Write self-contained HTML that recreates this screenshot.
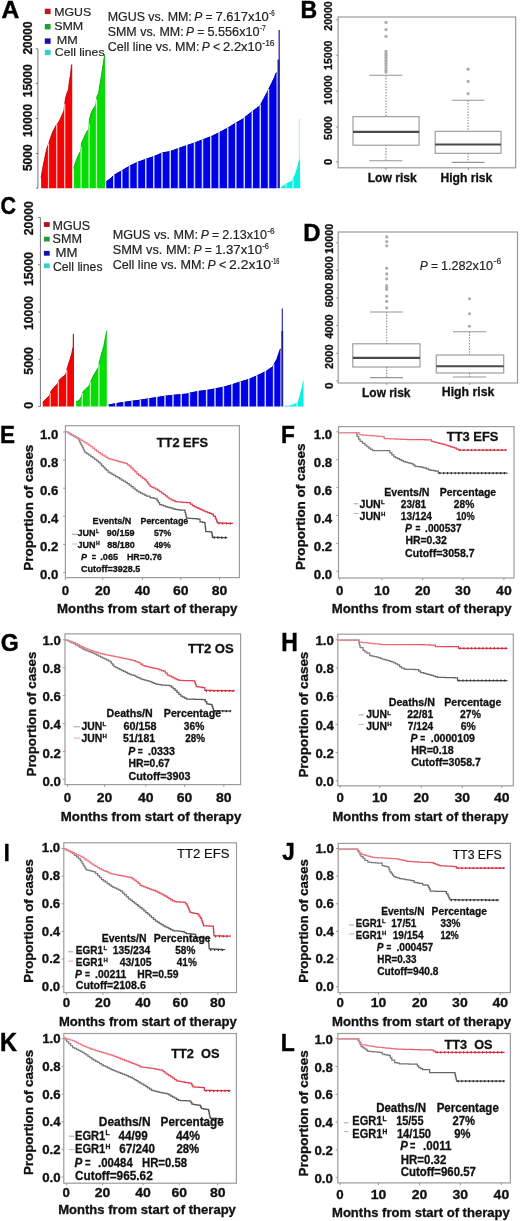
<!DOCTYPE html><html><head><meta charset="utf-8"><style>html,body{margin:0;padding:0;background:#fff;}svg{display:block;will-change:transform;filter:blur(0.35px);} text{font-family:"Liberation Sans",sans-serif;}</style></head><body>
<svg width="520" height="1221" viewBox="0 0 520 1221">
<rect x="0" y="0" width="520" height="1221" fill="#fff"/>
<path d="M41.10,188.20 L41.10,188.00 L41.10,177.50 L42.50,168.90 L44.50,159.10 L46.50,149.30 L47.80,145.40 L49.20,142.10 L51.00,136.20 L53.00,131.00 L56.00,125.20 L57.40,123.80 L59.50,120.50 L61.50,115.90 L63.90,110.50 L65.40,98.50 L66.90,93.10 L68.50,89.20 L69.60,79.20 L70.40,75.40 L71.20,67.70 L71.50,64.60 L72.20,64.40 L72.20,188.20 Z" fill="#f40404"/>
<path d="M41.10,177.85 L42.50,169.25 L44.50,159.45 L46.50,149.65 L47.80,145.75 L49.20,142.45 L51.00,136.55 L53.00,131.35 L56.00,125.55 L57.40,124.15 L59.50,120.85 L61.50,116.25 L63.90,110.85 L65.40,98.85 L66.90,93.45 L68.50,89.55 L69.60,79.55 L70.40,75.75 L71.20,68.05 L71.50,64.95 L72.20,64.75" fill="none" stroke="#b80808" stroke-width="0.9" stroke-linejoin="round"/>
<line x1="48.50" y1="143.45" x2="48.50" y2="188.70" stroke="#ffc8c0" stroke-width="1.2"/>
<line x1="56.70" y1="124.20" x2="56.70" y2="188.70" stroke="#ffc8c0" stroke-width="1.2"/>
<line x1="64.70" y1="103.80" x2="64.70" y2="188.70" stroke="#ffc8c0" stroke-width="1.2"/>
<path d="M73.80,188.20 L73.80,188.00 L73.80,168.00 L75.00,163.50 L77.00,158.00 L79.60,152.20 L80.60,151.50 L81.60,142.50 L83.00,139.50 L85.00,135.00 L87.00,131.00 L88.60,129.40 L89.60,118.50 L91.00,113.00 L93.00,109.00 L95.80,104.80 L97.00,96.00 L98.50,93.30 L101.30,76.00 L103.50,61.50 L104.70,54.30 L105.00,54.00 L105.00,188.20 Z" fill="#06dc06"/>
<path d="M73.80,168.35 L75.00,163.85 L77.00,158.35 L79.60,152.55 L80.60,151.85 L81.60,142.85 L83.00,139.85 L85.00,135.35 L87.00,131.35 L88.60,129.75 L89.60,118.85 L91.00,113.35 L93.00,109.35 L95.80,105.15 L97.00,96.35 L98.50,93.65 L101.30,76.35 L103.50,61.85 L104.70,54.65 L105.00,54.35" fill="none" stroke="#10a818" stroke-width="0.9" stroke-linejoin="round"/>
<line x1="81.10" y1="146.70" x2="81.10" y2="188.70" stroke="#b8ffb0" stroke-width="1.3"/>
<line x1="89.10" y1="123.65" x2="89.10" y2="188.70" stroke="#b8ffb0" stroke-width="1.3"/>
<line x1="96.50" y1="99.37" x2="96.50" y2="188.70" stroke="#b8ffb0" stroke-width="1.3"/>
<path d="M106.30,188.20 L106.30,188.00 L106.30,181.25 L110.00,178.75 L113.75,175.00 L122.50,170.00 L130.00,165.50 L137.50,162.00 L146.25,158.75 L153.75,156.25 L162.50,152.50 L170.00,151.25 L178.75,148.00 L187.50,145.00 L195.00,142.50 L202.50,139.50 L211.25,136.25 L218.75,132.50 L227.70,127.70 L235.40,123.00 L243.10,118.50 L250.80,112.30 L260.00,105.40 L266.20,93.80 L270.80,84.60 L274.50,77.00 L275.80,73.00 L276.60,72.50 L276.60,188.20 Z" fill="#0000e4"/>
<path d="M106.30,181.60 L110.00,179.10 L113.75,175.35 L122.50,170.35 L130.00,165.85 L137.50,162.35 L146.25,159.10 L153.75,156.60 L162.50,152.85 L170.00,151.60 L178.75,148.35 L187.50,145.35 L195.00,142.85 L202.50,139.85 L211.25,136.60 L218.75,132.85 L227.70,128.05 L235.40,123.35 L243.10,118.85 L250.80,112.65 L260.00,105.75 L266.20,94.15 L270.80,84.95 L274.50,77.35 L275.80,73.35 L276.60,72.85" fill="none" stroke="#0000a0" stroke-width="0.9" stroke-linejoin="round"/>
<line x1="113.75" y1="174.70" x2="113.75" y2="188.70" stroke="#ccd4ff" stroke-width="1.5"/>
<line x1="121.75" y1="170.13" x2="121.75" y2="188.70" stroke="#ccd4ff" stroke-width="1.5"/>
<line x1="129.50" y1="165.50" x2="129.50" y2="188.70" stroke="#ccd4ff" stroke-width="1.5"/>
<line x1="137.50" y1="161.70" x2="137.50" y2="188.70" stroke="#ccd4ff" stroke-width="1.5"/>
<line x1="145.75" y1="158.64" x2="145.75" y2="188.70" stroke="#ccd4ff" stroke-width="1.5"/>
<line x1="153.75" y1="155.95" x2="153.75" y2="188.70" stroke="#ccd4ff" stroke-width="1.5"/>
<line x1="162.00" y1="152.41" x2="162.00" y2="188.70" stroke="#ccd4ff" stroke-width="1.5"/>
<line x1="170.25" y1="150.86" x2="170.25" y2="188.70" stroke="#ccd4ff" stroke-width="1.5"/>
<line x1="178.50" y1="147.79" x2="178.50" y2="188.70" stroke="#ccd4ff" stroke-width="1.5"/>
<line x1="186.75" y1="144.96" x2="186.75" y2="188.70" stroke="#ccd4ff" stroke-width="1.5"/>
<line x1="194.50" y1="142.37" x2="194.50" y2="188.70" stroke="#ccd4ff" stroke-width="1.5"/>
<line x1="202.50" y1="139.20" x2="202.50" y2="188.70" stroke="#ccd4ff" stroke-width="1.5"/>
<line x1="210.75" y1="136.14" x2="210.75" y2="188.70" stroke="#ccd4ff" stroke-width="1.5"/>
<line x1="219.00" y1="132.07" x2="219.00" y2="188.70" stroke="#ccd4ff" stroke-width="1.5"/>
<line x1="227.70" y1="127.40" x2="227.70" y2="188.70" stroke="#ccd4ff" stroke-width="1.5"/>
<line x1="235.80" y1="122.47" x2="235.80" y2="188.70" stroke="#ccd4ff" stroke-width="1.5"/>
<line x1="244.30" y1="117.23" x2="244.30" y2="188.70" stroke="#ccd4ff" stroke-width="1.5"/>
<line x1="252.30" y1="110.88" x2="252.30" y2="188.70" stroke="#ccd4ff" stroke-width="1.5"/>
<line x1="260.30" y1="104.54" x2="260.30" y2="188.70" stroke="#ccd4ff" stroke-width="1.5"/>
<line x1="268.50" y1="88.90" x2="268.50" y2="188.70" stroke="#ccd4ff" stroke-width="1.5"/>
<rect x="277.50" y="59.50" width="2.40" height="128.70" fill="#22229a" stroke="none" stroke-width="1"/>
<rect x="278.50" y="30.00" width="1.40" height="30.00" fill="#3a3ab4" stroke="none" stroke-width="1"/>
<path d="M280.80,188.20 L280.80,188.00 L280.80,187.20 L286.00,183.60 L291.50,181.00 L295.00,174.00 L297.60,166.00 L299.00,159.40 L300.00,156.00 L300.20,188.00 L300.20,188.20 Z" fill="#08f0e4"/>
<line x1="286.00" y1="183.30" x2="286.00" y2="188.70" stroke="#d0fff8" stroke-width="1.0"/>
<line x1="293.00" y1="177.70" x2="293.00" y2="188.70" stroke="#d0fff8" stroke-width="1.0"/>
<line x1="299.30" y1="119.00" x2="299.30" y2="160.00" stroke="#9ff0f0" stroke-width="1"/>
<line x1="37.90" y1="48.80" x2="37.90" y2="188.10" stroke="#777" stroke-width="1"/>
<line x1="35.80" y1="48.80" x2="37.90" y2="48.80" stroke="#777" stroke-width="1"/>
<line x1="35.80" y1="83.40" x2="37.90" y2="83.40" stroke="#777" stroke-width="1"/>
<line x1="35.80" y1="118.50" x2="37.90" y2="118.50" stroke="#777" stroke-width="1"/>
<line x1="35.80" y1="153.50" x2="37.90" y2="153.50" stroke="#777" stroke-width="1"/>
<line x1="35.80" y1="188.10" x2="37.90" y2="188.10" stroke="#777" stroke-width="1"/>
<text transform="translate(32.30,38.00) rotate(-90)" x="0" y="0" font-size="11.9" font-weight="bold" stroke="#111" stroke-width="0.3" text-anchor="middle" textLength="33.00" lengthAdjust="spacingAndGlyphs" fill="#111">20000</text>
<text transform="translate(32.30,80.70) rotate(-90)" x="0" y="0" font-size="11.9" font-weight="bold" stroke="#111" stroke-width="0.3" text-anchor="middle" textLength="33.00" lengthAdjust="spacingAndGlyphs" fill="#111">15000</text>
<text transform="translate(32.30,120.50) rotate(-90)" x="0" y="0" font-size="11.9" font-weight="bold" stroke="#111" stroke-width="0.3" text-anchor="middle" textLength="33.00" lengthAdjust="spacingAndGlyphs" fill="#111">10000</text>
<text transform="translate(32.30,157.70) rotate(-90)" x="0" y="0" font-size="11.9" font-weight="bold" stroke="#111" stroke-width="0.3" text-anchor="middle" textLength="26.80" lengthAdjust="spacingAndGlyphs" fill="#111">5000</text>
<text transform="translate(1.49,18.20) scale(1.032,1)" x="0" y="0" font-size="23.84" font-weight="bold" fill="#000" stroke="#000" stroke-width="0.45">A</text>
<rect x="44.80" y="8.70" width="5.80" height="5.40" fill="#cc1020" stroke="none" stroke-width="1"/>
<rect x="44.80" y="24.00" width="5.80" height="5.40" fill="#20a030" stroke="none" stroke-width="1"/>
<rect x="44.80" y="38.40" width="5.80" height="5.40" fill="#1010b0" stroke="none" stroke-width="1"/>
<rect x="44.80" y="49.80" width="5.80" height="5.40" fill="#30d0d0" stroke="none" stroke-width="1"/>
<text x="54.20" y="15.90" font-size="11" stroke="#222" stroke-width="0.18" textLength="37.00" lengthAdjust="spacingAndGlyphs" fill="#222">MGUS</text>
<text x="54.20" y="29.90" font-size="11" stroke="#222" stroke-width="0.18" textLength="29.00" lengthAdjust="spacingAndGlyphs" fill="#222">SMM</text>
<text x="56.80" y="43.70" font-size="11" stroke="#222" stroke-width="0.18" textLength="21.00" lengthAdjust="spacingAndGlyphs" fill="#222">MM</text>
<text x="54.80" y="56.30" font-size="11" stroke="#222" stroke-width="0.18" textLength="49.80" lengthAdjust="spacingAndGlyphs" fill="#222">Cell lines</text>
<text x="107.70" y="20.60" font-size="12" stroke="#222" stroke-width="0.18" textLength="84.10" lengthAdjust="spacingAndGlyphs" fill="#222">MGUS vs. MM:</text>
<text x="194.20" y="20.60" font-size="12" stroke="#222" stroke-width="0.18" font-style="italic" fill="#222">P</text>
<text x="205.40" y="20.60" font-size="12" stroke="#222" stroke-width="0.18" fill="#222">=</text>
<text x="215.50" y="20.60" font-size="12" stroke="#222" stroke-width="0.18" textLength="53.30" lengthAdjust="spacingAndGlyphs" fill="#222">7.617x10</text>
<text x="269.10" y="15.60" font-size="8.2" stroke="#222" stroke-width="0.18" textLength="5.50" lengthAdjust="spacingAndGlyphs" fill="#222">-6</text>
<text x="107.70" y="36.30" font-size="12" stroke="#222" stroke-width="0.18" textLength="76.00" lengthAdjust="spacingAndGlyphs" fill="#222">SMM vs. MM:</text>
<text x="186.10" y="36.30" font-size="12" stroke="#222" stroke-width="0.18" font-style="italic" fill="#222">P</text>
<text x="197.30" y="36.30" font-size="12" stroke="#222" stroke-width="0.18" fill="#222">=</text>
<text x="207.40" y="36.30" font-size="12" stroke="#222" stroke-width="0.18" textLength="52.20" lengthAdjust="spacingAndGlyphs" fill="#222">5.556x10</text>
<text x="259.90" y="31.30" font-size="8.2" stroke="#222" stroke-width="0.18" textLength="5.90" lengthAdjust="spacingAndGlyphs" fill="#222">-7</text>
<text x="107.70" y="51.20" font-size="12" stroke="#222" stroke-width="0.18" textLength="91.70" lengthAdjust="spacingAndGlyphs" fill="#222">Cell line vs. MM:</text>
<text x="201.80" y="51.20" font-size="12" stroke="#222" stroke-width="0.18" font-style="italic" fill="#222">P</text>
<text x="213.00" y="51.20" font-size="12" stroke="#222" stroke-width="0.18" fill="#222">&lt;</text>
<text x="223.10" y="51.20" font-size="12" stroke="#222" stroke-width="0.18" textLength="38.90" lengthAdjust="spacingAndGlyphs" fill="#222">2.2x10</text>
<text x="262.30" y="46.20" font-size="8.2" stroke="#222" stroke-width="0.18" textLength="12.30" lengthAdjust="spacingAndGlyphs" fill="#222">-16</text>
<rect x="338.10" y="17.00" width="177.60" height="150.80" fill="none" stroke="#9a9a9a" stroke-width="1.2"/>
<line x1="336.00" y1="19.80" x2="338.10" y2="19.80" stroke="#999" stroke-width="1"/>
<line x1="336.00" y1="55.20" x2="338.10" y2="55.20" stroke="#999" stroke-width="1"/>
<line x1="336.00" y1="91.00" x2="338.10" y2="91.00" stroke="#999" stroke-width="1"/>
<line x1="336.00" y1="127.10" x2="338.10" y2="127.10" stroke="#999" stroke-width="1"/>
<line x1="336.00" y1="161.90" x2="338.10" y2="161.90" stroke="#999" stroke-width="1"/>
<text transform="translate(331.80,16.00) rotate(-90)" x="0" y="0" font-size="10.6" font-weight="bold" stroke="#111" stroke-width="0.3" text-anchor="middle" textLength="29.40" lengthAdjust="spacingAndGlyphs" fill="#111">20000</text>
<text transform="translate(331.80,55.20) rotate(-90)" x="0" y="0" font-size="10.6" font-weight="bold" stroke="#111" stroke-width="0.3" text-anchor="middle" textLength="29.40" lengthAdjust="spacingAndGlyphs" fill="#111">15000</text>
<text transform="translate(331.80,90.00) rotate(-90)" x="0" y="0" font-size="10.6" font-weight="bold" stroke="#111" stroke-width="0.3" text-anchor="middle" textLength="29.40" lengthAdjust="spacingAndGlyphs" fill="#111">10000</text>
<text transform="translate(331.80,128.20) rotate(-90)" x="0" y="0" font-size="10.6" font-weight="bold" stroke="#111" stroke-width="0.3" text-anchor="middle" textLength="23.70" lengthAdjust="spacingAndGlyphs" fill="#111">5000</text>
<text transform="translate(331.80,162.00) rotate(-90)" x="0" y="0" font-size="10.6" font-weight="bold" stroke="#111" stroke-width="0.3" text-anchor="middle" textLength="6.20" lengthAdjust="spacingAndGlyphs" fill="#111">0</text>
<text transform="translate(300.55,18.40) scale(0.955,1)" x="0" y="0" font-size="24.20" font-weight="bold" fill="#000" stroke="#000" stroke-width="0.45">B</text>
<line x1="386.00" y1="75.30" x2="386.00" y2="116.70" stroke="#888" stroke-width="1.1" stroke-dasharray="1.4,1.4"/>
<line x1="386.00" y1="145.20" x2="386.00" y2="160.80" stroke="#888" stroke-width="1.1" stroke-dasharray="1.4,1.4"/>
<line x1="369.30" y1="75.30" x2="402.30" y2="75.30" stroke="#969696" stroke-width="1.1"/>
<line x1="369.30" y1="160.80" x2="402.30" y2="160.80" stroke="#969696" stroke-width="1.1"/>
<rect x="353.00" y="116.70" width="66.10" height="28.50" fill="#fff" stroke="#969696" stroke-width="1.1"/>
<line x1="353.00" y1="131.80" x2="419.10" y2="131.80" stroke="#4a4a4a" stroke-width="2.2"/>
<circle cx="386.00" cy="22.40" r="1.6" fill="#acacac"/>
<circle cx="386.00" cy="29.60" r="1.6" fill="#acacac"/>
<circle cx="386.00" cy="36.30" r="1.6" fill="#acacac"/>
<circle cx="386.00" cy="51.30" r="1.6" fill="#acacac"/>
<circle cx="386.00" cy="53.60" r="1.6" fill="#acacac"/>
<circle cx="386.00" cy="55.40" r="1.6" fill="#acacac"/>
<circle cx="386.00" cy="57.30" r="1.6" fill="#acacac"/>
<circle cx="386.00" cy="59.10" r="1.6" fill="#acacac"/>
<circle cx="386.00" cy="61.20" r="1.6" fill="#acacac"/>
<circle cx="386.00" cy="63.50" r="1.6" fill="#acacac"/>
<circle cx="386.00" cy="65.50" r="1.6" fill="#acacac"/>
<circle cx="386.00" cy="68.10" r="1.6" fill="#acacac"/>
<circle cx="386.00" cy="70.40" r="1.6" fill="#acacac"/>
<circle cx="386.00" cy="72.10" r="1.6" fill="#acacac"/>
<line x1="468.10" y1="100.30" x2="468.10" y2="131.30" stroke="#888" stroke-width="1.1" stroke-dasharray="1.4,1.4"/>
<line x1="468.10" y1="153.30" x2="468.10" y2="162.40" stroke="#888" stroke-width="1.1" stroke-dasharray="1.4,1.4"/>
<line x1="451.70" y1="100.30" x2="484.50" y2="100.30" stroke="#969696" stroke-width="1.1"/>
<line x1="451.70" y1="162.40" x2="484.50" y2="162.40" stroke="#969696" stroke-width="1.1"/>
<rect x="435.20" y="131.30" width="65.80" height="22.00" fill="#fff" stroke="#969696" stroke-width="1.1"/>
<line x1="435.20" y1="144.50" x2="501.00" y2="144.50" stroke="#4a4a4a" stroke-width="2.2"/>
<circle cx="468.10" cy="69.20" r="1.6" fill="#acacac"/>
<circle cx="468.10" cy="81.30" r="1.6" fill="#acacac"/>
<circle cx="468.10" cy="93.70" r="1.6" fill="#acacac"/>
<line x1="386.00" y1="167.80" x2="386.00" y2="170.00" stroke="#999" stroke-width="1"/>
<line x1="468.50" y1="167.80" x2="468.50" y2="170.00" stroke="#999" stroke-width="1"/>
<text x="367.70" y="181.50" font-size="12.2" font-weight="bold" stroke="#111" stroke-width="0.3" textLength="49.10" lengthAdjust="spacingAndGlyphs" fill="#111">Low risk</text>
<text x="440.40" y="181.50" font-size="12.2" font-weight="bold" stroke="#111" stroke-width="0.3" textLength="51.90" lengthAdjust="spacingAndGlyphs" fill="#111">High risk</text>
<path d="M42.80,406.50 L42.80,406.50 L42.80,401.90 L44.90,399.80 L48.40,396.30 L49.40,395.40 L51.00,391.00 L53.20,388.00 L56.00,385.20 L57.60,383.60 L59.20,380.00 L61.50,377.60 L65.00,374.90 L65.90,373.50 L67.50,367.00 L69.90,359.60 L71.90,352.70 L72.90,347.20 L73.20,347.00 L73.30,334.00 L74.00,334.00 L74.00,406.50 Z" fill="#f40404"/>
<path d="M42.80,402.25 L44.90,400.15 L48.40,396.65 L49.40,395.75 L51.00,391.35 L53.20,388.35 L56.00,385.55 L57.60,383.95 L59.20,380.35 L61.50,377.95 L65.00,375.25 L65.90,373.85 L67.50,367.35 L69.90,359.95 L71.90,353.05 L72.90,347.55 L73.20,347.35 L73.30,334.35 L74.00,334.35" fill="none" stroke="#b80808" stroke-width="0.9" stroke-linejoin="round"/>
<line x1="50.20" y1="392.90" x2="50.20" y2="407.00" stroke="#ffc8c0" stroke-width="1.2"/>
<line x1="58.40" y1="381.50" x2="58.40" y2="407.00" stroke="#ffc8c0" stroke-width="1.2"/>
<line x1="66.70" y1="369.95" x2="66.70" y2="407.00" stroke="#ffc8c0" stroke-width="1.2"/>
<path d="M76.10,406.50 L76.10,406.50 L76.10,401.20 L78.90,400.50 L81.30,396.50 L82.90,391.50 L86.50,388.00 L89.40,385.00 L90.90,381.00 L93.40,375.60 L96.20,370.70 L98.20,367.50 L99.60,361.00 L101.70,352.70 L103.80,345.80 L105.90,334.70 L106.80,330.50 L106.80,406.50 Z" fill="#06dc06"/>
<path d="M76.10,401.55 L78.90,400.85 L81.30,396.85 L82.90,391.85 L86.50,388.35 L89.40,385.35 L90.90,381.35 L93.40,375.95 L96.20,371.05 L98.20,367.85 L99.60,361.35 L101.70,353.05 L103.80,346.15 L105.90,335.05 L106.80,330.85" fill="none" stroke="#10a818" stroke-width="0.9" stroke-linejoin="round"/>
<line x1="82.30" y1="393.08" x2="82.30" y2="407.00" stroke="#b8ffb0" stroke-width="1.3"/>
<line x1="90.40" y1="382.03" x2="90.40" y2="407.00" stroke="#b8ffb0" stroke-width="1.3"/>
<line x1="98.90" y1="363.95" x2="98.90" y2="407.00" stroke="#b8ffb0" stroke-width="1.3"/>
<path d="M108.70,406.50 L108.70,406.50 L108.70,404.60 L119.20,402.70 L128.80,401.30 L138.50,400.00 L148.00,398.50 L157.70,397.00 L167.30,395.60 L176.90,394.60 L186.50,393.70 L190.00,392.70 L198.50,391.00 L207.00,390.00 L215.40,388.40 L223.80,386.70 L232.30,384.20 L240.80,381.40 L249.20,378.90 L257.70,375.10 L266.20,370.90 L272.50,366.60 L276.70,359.20 L279.90,349.70 L280.50,348.50 L280.50,406.50 Z" fill="#0000e4"/>
<path d="M108.70,404.95 L119.20,403.05 L128.80,401.65 L138.50,400.35 L148.00,398.85 L157.70,397.35 L167.30,395.95 L176.90,394.95 L186.50,394.05 L190.00,393.05 L198.50,391.35 L207.00,390.35 L215.40,388.75 L223.80,387.05 L232.30,384.55 L240.80,381.75 L249.20,379.25 L257.70,375.45 L266.20,371.25 L272.50,366.95 L276.70,359.55 L279.90,350.05 L280.50,348.85" fill="none" stroke="#0000a0" stroke-width="0.9" stroke-linejoin="round"/>
<line x1="115.80" y1="403.02" x2="115.80" y2="407.00" stroke="#ccd4ff" stroke-width="1.5"/>
<line x1="124.00" y1="401.70" x2="124.00" y2="407.00" stroke="#ccd4ff" stroke-width="1.5"/>
<line x1="132.10" y1="400.56" x2="132.10" y2="407.00" stroke="#ccd4ff" stroke-width="1.5"/>
<line x1="140.40" y1="399.40" x2="140.40" y2="407.00" stroke="#ccd4ff" stroke-width="1.5"/>
<line x1="148.50" y1="398.12" x2="148.50" y2="407.00" stroke="#ccd4ff" stroke-width="1.5"/>
<line x1="156.70" y1="396.85" x2="156.70" y2="407.00" stroke="#ccd4ff" stroke-width="1.5"/>
<line x1="165.00" y1="395.64" x2="165.00" y2="407.00" stroke="#ccd4ff" stroke-width="1.5"/>
<line x1="173.00" y1="394.71" x2="173.00" y2="407.00" stroke="#ccd4ff" stroke-width="1.5"/>
<line x1="181.20" y1="393.90" x2="181.20" y2="407.00" stroke="#ccd4ff" stroke-width="1.5"/>
<line x1="189.40" y1="392.57" x2="189.40" y2="407.00" stroke="#ccd4ff" stroke-width="1.5"/>
<line x1="197.90" y1="390.82" x2="197.90" y2="407.00" stroke="#ccd4ff" stroke-width="1.5"/>
<line x1="206.60" y1="389.75" x2="206.60" y2="407.00" stroke="#ccd4ff" stroke-width="1.5"/>
<line x1="215.00" y1="388.18" x2="215.00" y2="407.00" stroke="#ccd4ff" stroke-width="1.5"/>
<line x1="223.40" y1="386.48" x2="223.40" y2="407.00" stroke="#ccd4ff" stroke-width="1.5"/>
<line x1="231.90" y1="384.02" x2="231.90" y2="407.00" stroke="#ccd4ff" stroke-width="1.5"/>
<line x1="240.30" y1="381.26" x2="240.30" y2="407.00" stroke="#ccd4ff" stroke-width="1.5"/>
<line x1="248.80" y1="378.72" x2="248.80" y2="407.00" stroke="#ccd4ff" stroke-width="1.5"/>
<line x1="256.80" y1="375.20" x2="256.80" y2="407.00" stroke="#ccd4ff" stroke-width="1.5"/>
<line x1="265.30" y1="371.04" x2="265.30" y2="407.00" stroke="#ccd4ff" stroke-width="1.5"/>
<line x1="273.60" y1="364.36" x2="273.60" y2="407.00" stroke="#ccd4ff" stroke-width="1.5"/>
<rect x="281.30" y="331.00" width="1.90" height="75.50" fill="#1a1a96" stroke="none" stroke-width="1"/>
<rect x="281.70" y="308.50" width="1.30" height="23.00" fill="#3a3ab4" stroke="none" stroke-width="1"/>
<path d="M284.00,406.50 L284.00,406.50 L284.00,405.80 L290.00,405.50 L293.00,404.60 L297.70,402.30 L299.00,397.70 L301.50,388.50 L303.00,380.80 L303.50,380.00 L303.50,406.50 Z" fill="#08f0e4"/>
<line x1="297.00" y1="402.34" x2="297.00" y2="407.00" stroke="#d0fff8" stroke-width="1.0"/>
<line x1="40.40" y1="217.50" x2="40.40" y2="406.50" stroke="#777" stroke-width="1"/>
<line x1="38.30" y1="217.50" x2="40.40" y2="217.50" stroke="#777" stroke-width="1"/>
<line x1="38.30" y1="264.75" x2="40.40" y2="264.75" stroke="#777" stroke-width="1"/>
<line x1="38.30" y1="312.00" x2="40.40" y2="312.00" stroke="#777" stroke-width="1"/>
<line x1="38.30" y1="359.25" x2="40.40" y2="359.25" stroke="#777" stroke-width="1"/>
<line x1="38.30" y1="406.50" x2="40.40" y2="406.50" stroke="#777" stroke-width="1"/>
<text transform="translate(33.40,218.20) rotate(-90)" x="0" y="0" font-size="12.3" font-weight="bold" stroke="#111" stroke-width="0.3" text-anchor="middle" textLength="34.20" lengthAdjust="spacingAndGlyphs" fill="#111">20000</text>
<text transform="translate(33.40,268.90) rotate(-90)" x="0" y="0" font-size="12.3" font-weight="bold" stroke="#111" stroke-width="0.3" text-anchor="middle" textLength="34.20" lengthAdjust="spacingAndGlyphs" fill="#111">15000</text>
<text transform="translate(33.40,313.00) rotate(-90)" x="0" y="0" font-size="12.3" font-weight="bold" stroke="#111" stroke-width="0.3" text-anchor="middle" textLength="34.20" lengthAdjust="spacingAndGlyphs" fill="#111">10000</text>
<text transform="translate(33.40,360.90) rotate(-90)" x="0" y="0" font-size="12.3" font-weight="bold" stroke="#111" stroke-width="0.3" text-anchor="middle" textLength="27.80" lengthAdjust="spacingAndGlyphs" fill="#111">5000</text>
<text transform="translate(33.40,405.40) rotate(-90)" x="0" y="0" font-size="12.3" font-weight="bold" stroke="#111" stroke-width="0.3" text-anchor="middle" textLength="6.90" lengthAdjust="spacingAndGlyphs" fill="#111">0</text>
<text transform="translate(0.62,214.36) scale(0.873,1)" x="0" y="0" font-size="24.72" font-weight="bold" fill="#000" stroke="#000" stroke-width="0.45">C</text>
<rect x="43.90" y="222.10" width="5.80" height="4.80" fill="#b01020" stroke="none" stroke-width="1"/>
<rect x="43.90" y="236.70" width="5.80" height="4.80" fill="#20a030" stroke="none" stroke-width="1"/>
<rect x="43.90" y="250.90" width="5.80" height="4.80" fill="#1010b0" stroke="none" stroke-width="1"/>
<rect x="43.90" y="263.40" width="5.80" height="4.80" fill="#30d0d0" stroke="none" stroke-width="1"/>
<text x="52.50" y="229.50" font-size="12" stroke="#222" stroke-width="0.18" textLength="37.50" lengthAdjust="spacingAndGlyphs" fill="#222">MGUS</text>
<text x="52.50" y="243.30" font-size="12" stroke="#222" stroke-width="0.18" textLength="29.50" lengthAdjust="spacingAndGlyphs" fill="#222">SMM</text>
<text x="55.50" y="257.00" font-size="12" stroke="#222" stroke-width="0.18" textLength="22.00" lengthAdjust="spacingAndGlyphs" fill="#222">MM</text>
<text x="53.00" y="271.00" font-size="12" stroke="#222" stroke-width="0.18" textLength="49.50" lengthAdjust="spacingAndGlyphs" fill="#222">Cell lines</text>
<text x="112.70" y="238.70" font-size="12.2" stroke="#222" stroke-width="0.18" textLength="85.40" lengthAdjust="spacingAndGlyphs" fill="#222">MGUS vs. MM:</text>
<text x="200.70" y="238.70" font-size="12.2" stroke="#222" stroke-width="0.18" font-style="italic" fill="#222">P</text>
<text x="212.10" y="238.70" font-size="12.2" stroke="#222" stroke-width="0.18" fill="#222">=</text>
<text x="222.30" y="238.70" font-size="12.2" stroke="#222" stroke-width="0.18" textLength="44.70" lengthAdjust="spacingAndGlyphs" fill="#222">2.13x10</text>
<text x="267.30" y="233.50" font-size="8.4" stroke="#222" stroke-width="0.18" textLength="7.30" lengthAdjust="spacingAndGlyphs" fill="#222">-6</text>
<text x="112.70" y="253.70" font-size="12.2" stroke="#222" stroke-width="0.18" textLength="78.10" lengthAdjust="spacingAndGlyphs" fill="#222">SMM vs. MM:</text>
<text x="193.40" y="253.70" font-size="12.2" stroke="#222" stroke-width="0.18" font-style="italic" fill="#222">P</text>
<text x="204.80" y="253.70" font-size="12.2" stroke="#222" stroke-width="0.18" fill="#222">=</text>
<text x="215.00" y="253.70" font-size="12.2" stroke="#222" stroke-width="0.18" textLength="47.00" lengthAdjust="spacingAndGlyphs" fill="#222">1.37x10</text>
<text x="262.30" y="248.50" font-size="8.4" stroke="#222" stroke-width="0.18" textLength="6.50" lengthAdjust="spacingAndGlyphs" fill="#222">-6</text>
<text x="112.70" y="269.00" font-size="12.2" stroke="#222" stroke-width="0.18" textLength="92.20" lengthAdjust="spacingAndGlyphs" fill="#222">Cell line vs. MM:</text>
<text x="207.50" y="269.00" font-size="12.2" stroke="#222" stroke-width="0.18" font-style="italic" fill="#222">P</text>
<text x="218.90" y="269.00" font-size="12.2" stroke="#222" stroke-width="0.18" fill="#222">&lt;</text>
<text x="229.10" y="269.00" font-size="12.2" stroke="#222" stroke-width="0.18" textLength="41.90" lengthAdjust="spacingAndGlyphs" fill="#222">2.2x10</text>
<text x="271.30" y="263.80" font-size="8.4" stroke="#222" stroke-width="0.18" textLength="8.10" lengthAdjust="spacingAndGlyphs" fill="#222">-16</text>
<rect x="338.20" y="232.00" width="179.30" height="151.00" fill="none" stroke="#9a9a9a" stroke-width="1.2"/>
<line x1="336.00" y1="242.80" x2="338.20" y2="242.80" stroke="#999" stroke-width="1"/>
<line x1="336.00" y1="270.30" x2="338.20" y2="270.30" stroke="#999" stroke-width="1"/>
<line x1="336.00" y1="297.90" x2="338.20" y2="297.90" stroke="#999" stroke-width="1"/>
<line x1="336.00" y1="325.40" x2="338.20" y2="325.40" stroke="#999" stroke-width="1"/>
<line x1="336.00" y1="353.30" x2="338.20" y2="353.30" stroke="#999" stroke-width="1"/>
<line x1="336.00" y1="380.80" x2="338.20" y2="380.80" stroke="#999" stroke-width="1"/>
<text transform="translate(332.60,238.70) rotate(-90)" x="0" y="0" font-size="11.2" font-weight="bold" stroke="#111" stroke-width="0.3" text-anchor="middle" textLength="30.00" lengthAdjust="spacingAndGlyphs" fill="#111">10000</text>
<text transform="translate(332.60,268.40) rotate(-90)" x="0" y="0" font-size="11.2" font-weight="bold" stroke="#111" stroke-width="0.3" text-anchor="middle" textLength="24.40" lengthAdjust="spacingAndGlyphs" fill="#111">8000</text>
<text transform="translate(332.60,295.10) rotate(-90)" x="0" y="0" font-size="11.2" font-weight="bold" stroke="#111" stroke-width="0.3" text-anchor="middle" textLength="24.40" lengthAdjust="spacingAndGlyphs" fill="#111">6000</text>
<text transform="translate(332.60,326.60) rotate(-90)" x="0" y="0" font-size="11.2" font-weight="bold" stroke="#111" stroke-width="0.3" text-anchor="middle" textLength="24.40" lengthAdjust="spacingAndGlyphs" fill="#111">4000</text>
<text transform="translate(332.60,356.70) rotate(-90)" x="0" y="0" font-size="11.2" font-weight="bold" stroke="#111" stroke-width="0.3" text-anchor="middle" textLength="24.40" lengthAdjust="spacingAndGlyphs" fill="#111">2000</text>
<text transform="translate(332.60,385.70) rotate(-90)" x="0" y="0" font-size="11.2" font-weight="bold" stroke="#111" stroke-width="0.3" text-anchor="middle" textLength="6.60" lengthAdjust="spacingAndGlyphs" fill="#111">0</text>
<text transform="translate(303.30,240.50) scale(0.987,1)" x="0" y="0" font-size="24.27" font-weight="bold" fill="#000" stroke="#000" stroke-width="0.45">D</text>
<line x1="386.70" y1="312.00" x2="386.70" y2="343.80" stroke="#888" stroke-width="1.1" stroke-dasharray="1.4,1.4"/>
<line x1="386.70" y1="367.00" x2="386.70" y2="377.60" stroke="#888" stroke-width="1.1" stroke-dasharray="1.4,1.4"/>
<line x1="370.00" y1="312.00" x2="403.00" y2="312.00" stroke="#969696" stroke-width="1.1"/>
<line x1="370.00" y1="377.60" x2="403.00" y2="377.60" stroke="#969696" stroke-width="1.1"/>
<rect x="352.80" y="343.80" width="67.20" height="23.20" fill="#fff" stroke="#969696" stroke-width="1.1"/>
<line x1="352.80" y1="357.80" x2="420.00" y2="357.80" stroke="#4a4a4a" stroke-width="2.2"/>
<circle cx="386.70" cy="236.90" r="1.6" fill="#acacac"/>
<circle cx="386.70" cy="241.60" r="1.6" fill="#acacac"/>
<circle cx="386.70" cy="245.80" r="1.6" fill="#acacac"/>
<circle cx="386.70" cy="268.20" r="1.6" fill="#acacac"/>
<circle cx="386.70" cy="273.90" r="1.6" fill="#acacac"/>
<circle cx="386.70" cy="278.80" r="1.6" fill="#acacac"/>
<circle cx="386.70" cy="285.60" r="1.6" fill="#acacac"/>
<circle cx="386.70" cy="287.70" r="1.6" fill="#acacac"/>
<circle cx="386.70" cy="289.40" r="1.6" fill="#acacac"/>
<circle cx="386.70" cy="296.20" r="1.6" fill="#acacac"/>
<circle cx="386.70" cy="301.40" r="1.6" fill="#acacac"/>
<circle cx="386.70" cy="307.80" r="1.6" fill="#acacac"/>
<line x1="469.50" y1="331.75" x2="469.50" y2="355.00" stroke="#888" stroke-width="1.1" stroke-dasharray="1.4,1.4"/>
<line x1="469.50" y1="373.00" x2="469.50" y2="377.00" stroke="#888" stroke-width="1.1" stroke-dasharray="1.4,1.4"/>
<line x1="453.00" y1="331.75" x2="486.25" y2="331.75" stroke="#969696" stroke-width="1.1"/>
<line x1="453.00" y1="377.00" x2="486.25" y2="377.00" stroke="#969696" stroke-width="1.1"/>
<rect x="436.25" y="355.00" width="67.50" height="18.00" fill="#fff" stroke="#969696" stroke-width="1.1"/>
<line x1="436.25" y1="366.25" x2="503.75" y2="366.25" stroke="#4a4a4a" stroke-width="2.2"/>
<circle cx="469.50" cy="298.75" r="1.6" fill="#acacac"/>
<circle cx="469.50" cy="313.75" r="1.6" fill="#acacac"/>
<circle cx="469.50" cy="326.25" r="1.6" fill="#acacac"/>
<line x1="386.70" y1="383.00" x2="386.70" y2="385.00" stroke="#999" stroke-width="1"/>
<line x1="469.50" y1="383.00" x2="469.50" y2="385.00" stroke="#999" stroke-width="1"/>
<text x="362.10" y="396.50" font-size="12.2" font-weight="bold" stroke="#111" stroke-width="0.3" textLength="48.30" lengthAdjust="spacingAndGlyphs" fill="#111">Low risk</text>
<text x="441.80" y="396.30" font-size="12.2" font-weight="bold" stroke="#111" stroke-width="0.3" textLength="52.60" lengthAdjust="spacingAndGlyphs" fill="#111">High risk</text>
<text x="419.70" y="269.50" font-size="12" stroke="#222" stroke-width="0.18" font-style="italic" fill="#222">P</text>
<text x="430.90" y="269.50" font-size="12" stroke="#222" stroke-width="0.18" fill="#222">=</text>
<text x="441.00" y="269.50" font-size="12" stroke="#222" stroke-width="0.18" textLength="52.00" lengthAdjust="spacingAndGlyphs" fill="#222">1.282x10</text>
<text x="493.50" y="264.30" font-size="8.2" stroke="#222" stroke-width="0.18" textLength="7.70" lengthAdjust="spacingAndGlyphs" fill="#222">-6</text>
<rect x="65.40" y="425.70" width="174.00" height="151.90" fill="none" stroke="#9c9c9c" stroke-width="1.2"/>
<line x1="63.20" y1="432.00" x2="65.40" y2="432.00" stroke="#999" stroke-width="1"/>
<line x1="63.20" y1="460.10" x2="65.40" y2="460.10" stroke="#999" stroke-width="1"/>
<line x1="63.20" y1="488.20" x2="65.40" y2="488.20" stroke="#999" stroke-width="1"/>
<line x1="63.20" y1="516.30" x2="65.40" y2="516.30" stroke="#999" stroke-width="1"/>
<line x1="63.20" y1="544.40" x2="65.40" y2="544.40" stroke="#999" stroke-width="1"/>
<line x1="63.20" y1="572.50" x2="65.40" y2="572.50" stroke="#999" stroke-width="1"/>
<text x="58.30" y="438.70" font-size="12.4" font-weight="bold" stroke="#111" stroke-width="0.3" text-anchor="end" textLength="18.40" lengthAdjust="spacingAndGlyphs" fill="#111">1.0</text>
<text x="58.30" y="466.70" font-size="12.4" font-weight="bold" stroke="#111" stroke-width="0.3" text-anchor="end" textLength="18.40" lengthAdjust="spacingAndGlyphs" fill="#111">0.8</text>
<text x="58.30" y="494.70" font-size="12.4" font-weight="bold" stroke="#111" stroke-width="0.3" text-anchor="end" textLength="18.40" lengthAdjust="spacingAndGlyphs" fill="#111">0.6</text>
<text x="58.30" y="522.70" font-size="12.4" font-weight="bold" stroke="#111" stroke-width="0.3" text-anchor="end" textLength="18.40" lengthAdjust="spacingAndGlyphs" fill="#111">0.4</text>
<text x="58.30" y="550.70" font-size="12.4" font-weight="bold" stroke="#111" stroke-width="0.3" text-anchor="end" textLength="18.40" lengthAdjust="spacingAndGlyphs" fill="#111">0.2</text>
<text x="58.30" y="578.70" font-size="12.4" font-weight="bold" stroke="#111" stroke-width="0.3" text-anchor="end" textLength="18.40" lengthAdjust="spacingAndGlyphs" fill="#111">0.0</text>
<line x1="65.40" y1="577.60" x2="65.40" y2="579.80" stroke="#999" stroke-width="1"/>
<text x="65.40" y="595.00" font-size="12.6" font-weight="bold" stroke="#111" stroke-width="0.3" text-anchor="middle" textLength="7.40" lengthAdjust="spacingAndGlyphs" fill="#111">0</text>
<line x1="102.70" y1="577.60" x2="102.70" y2="579.80" stroke="#999" stroke-width="1"/>
<text x="102.70" y="595.00" font-size="12.6" font-weight="bold" stroke="#111" stroke-width="0.3" text-anchor="middle" textLength="15.60" lengthAdjust="spacingAndGlyphs" fill="#111">20</text>
<line x1="142.50" y1="577.60" x2="142.50" y2="579.80" stroke="#999" stroke-width="1"/>
<text x="142.50" y="595.00" font-size="12.6" font-weight="bold" stroke="#111" stroke-width="0.3" text-anchor="middle" textLength="15.60" lengthAdjust="spacingAndGlyphs" fill="#111">40</text>
<line x1="180.75" y1="577.60" x2="180.75" y2="579.80" stroke="#999" stroke-width="1"/>
<text x="180.75" y="595.00" font-size="12.6" font-weight="bold" stroke="#111" stroke-width="0.3" text-anchor="middle" textLength="15.60" lengthAdjust="spacingAndGlyphs" fill="#111">60</text>
<line x1="219.50" y1="577.60" x2="219.50" y2="579.80" stroke="#999" stroke-width="1"/>
<text x="219.50" y="595.00" font-size="12.6" font-weight="bold" stroke="#111" stroke-width="0.3" text-anchor="middle" textLength="15.60" lengthAdjust="spacingAndGlyphs" fill="#111">80</text>
<text x="57.00" y="612.60" font-size="12.6" font-weight="bold" stroke="#111" stroke-width="0.3" textLength="180.50" lengthAdjust="spacingAndGlyphs" fill="#111">Months from start of therapy</text>
<text transform="translate(33.20,570.70) rotate(-90)" x="0" y="0" font-size="12.0" font-weight="bold" stroke="#111" stroke-width="0.3" textLength="126.00" lengthAdjust="spacingAndGlyphs" fill="#111">Proportion of cases</text>
<text transform="translate(-0.00,442.50) scale(0.909,1)" x="0" y="0" font-size="24.71" font-weight="bold" fill="#000" stroke="#000" stroke-width="0.45">E</text>
<text x="156.80" y="446.80" font-size="13.2" font-weight="bold" stroke="#111" stroke-width="0.3" textLength="51.20" lengthAdjust="spacingAndGlyphs" fill="#111">TT2 EFS</text>
<defs><linearGradient id="gEk" gradientUnits="userSpaceOnUse" x1="65.4" y1="0" x2="239.4" y2="0"><stop offset="0" stop-color="#858585"/><stop offset="0.55" stop-color="#6a6a6a"/><stop offset="1" stop-color="#3e3e3e"/></linearGradient><linearGradient id="gEr" gradientUnits="userSpaceOnUse" x1="65.4" y1="0" x2="239.4" y2="0"><stop offset="0" stop-color="#f28c96"/><stop offset="0.5" stop-color="#ea5464"/><stop offset="1" stop-color="#d8283a"/></linearGradient></defs>
<path d="M65.80,431.50 H67.70 V432.80 H69.60 V434.10 H71.50 V435.40 H73.77 V436.67 H76.03 V437.93 H78.30 V439.20 H79.14 V440.89 H79.97 V442.57 H80.81 V444.26 H81.65 V445.95 H82.49 V447.64 H83.33 V449.32 H84.16 V451.01 H85.00 V452.70 H86.93 V453.97 H88.87 V455.23 H90.80 V456.50 H92.72 V457.95 H94.65 V459.40 H96.58 V460.85 H98.50 V462.30 H100.08 V463.92 H101.67 V465.53 H103.25 V467.15 H104.83 V468.77 H106.42 V470.38 H108.00 V472.00 H109.94 V473.14 H111.88 V474.28 H113.82 V475.42 H115.76 V476.56 H117.70 V477.70 H119.62 V478.86 H121.54 V480.02 H123.46 V481.18 H125.38 V482.34 H127.30 V483.50 H129.22 V485.04 H131.14 V486.58 H133.06 V488.12 H134.98 V489.66 H136.90 V491.20 H138.82 V492.16 H140.74 V493.12 H142.66 V494.08 H144.58 V495.04 H146.50 V496.00 H150.00 V497.50 H151.93 V497.93 H153.87 V498.37 H155.80 V498.80 H157.07 V500.73 H158.33 V502.67 H159.60 V504.60 H161.53 V505.23 H163.47 V505.87 H165.40 V506.50 H167.32 V507.08 H169.24 V507.66 H171.16 V508.24 H173.08 V508.82 H175.00 V509.40 H176.92 V509.60 H178.84 V509.80 H180.76 V510.00 H182.68 V510.20 H184.60 V510.40 H185.07 V512.33 H185.55 V514.25 H186.03 V516.17 H186.50 V518.10 H188.43 V518.25 H190.37 V518.40 H192.30 V518.55 H194.23 V518.70 H196.17 V518.85 H198.10 V519.00 H200.00 V521.90 H202.40 V522.40 H204.80 V522.90 H205.00 V524.62 H205.20 V526.34 H205.40 V528.06 H205.60 V529.78 H205.80 V531.50 H207.70 V531.63 H209.60 V531.77 H211.50 V531.90 H211.83 V533.70 H212.17 V535.50 H212.50 V537.30 H214.30 V537.35 H216.10 V537.40 H217.90 V537.45 H219.70 V537.50 H221.50 V537.55 H223.30 V537.60 H225.10 V537.65 H226.90 V537.70 " fill="none" stroke="url(#gEk)" stroke-width="1.25"/>
<path d="M65.80,431.50 H67.71 V432.60 H69.63 V433.70 H71.54 V434.80 H73.46 V435.90 H75.37 V437.00 H77.29 V438.10 H79.20 V439.20 H81.12 V440.36 H83.04 V441.52 H84.96 V442.68 H86.88 V443.84 H88.80 V445.00 H90.74 V446.54 H92.68 V448.08 H94.62 V449.62 H96.56 V451.16 H98.50 V452.70 H100.40 V453.86 H102.30 V455.02 H104.20 V456.18 H106.10 V457.34 H108.00 V458.50 H109.94 V459.06 H111.88 V459.62 H113.82 V460.18 H115.76 V460.74 H117.70 V461.30 H119.62 V461.80 H121.55 V462.30 H123.48 V462.80 H125.40 V463.30 H127.30 V464.75 H129.20 V466.20 H131.12 V468.10 H133.05 V470.00 H134.97 V471.90 H136.90 V473.80 H138.82 V475.34 H140.74 V476.88 H142.66 V478.42 H144.58 V479.96 H146.50 V481.50 H147.67 V483.10 H148.83 V484.70 H150.00 V486.30 H151.93 V487.27 H153.87 V488.23 H155.80 V489.20 H157.70 V490.47 H159.60 V491.73 H161.50 V493.00 H163.43 V494.45 H165.35 V495.90 H167.27 V497.35 H169.20 V498.80 H171.13 V499.77 H173.07 V500.73 H175.00 V501.70 H176.93 V501.84 H178.86 V501.99 H180.79 V502.13 H182.71 V502.27 H184.64 V502.41 H186.57 V502.56 H188.50 V502.70 H190.40 V504.15 H192.30 V505.60 H194.23 V506.55 H196.15 V507.50 H198.07 V508.45 H200.00 V509.40 H201.93 V510.23 H203.87 V511.07 H205.80 V511.90 H207.70 V512.67 H209.60 V513.43 H211.50 V514.20 H213.45 V516.10 H215.40 V518.00 H216.03 V519.63 H216.67 V521.27 H217.30 V522.90 H219.23 V522.98 H221.15 V523.05 H223.07 V523.12 H225.00 V523.20 H226.93 V523.27 H228.85 V523.35 H230.77 V523.42 H232.70 V523.50 " fill="none" stroke="url(#gEr)" stroke-width="1.25"/>
<line x1="213.50" y1="537.70" x2="226.90" y2="537.70" stroke="#303030" stroke-width="2.2" stroke-dasharray="1.2,2.6"/>
<line x1="218.30" y1="523.50" x2="232.70" y2="523.50" stroke="#c82838" stroke-width="2.2" stroke-dasharray="1.2,2.6"/>
<text x="92.60" y="523.50" font-size="9.65" font-weight="bold" stroke="#111" stroke-width="0.3" textLength="38.80" lengthAdjust="spacingAndGlyphs" fill="#111">Events/N</text>
<text x="140.50" y="523.50" font-size="9.65" font-weight="bold" stroke="#111" stroke-width="0.3" textLength="47.80" lengthAdjust="spacingAndGlyphs" fill="#111">Percentage</text>
<line x1="71.80" y1="534.30" x2="77.20" y2="534.30" stroke="#a0a0a0" stroke-width="1"/>
<text x="77.50" y="535.80" font-size="9.65" font-weight="bold" stroke="#111" stroke-width="0.3" textLength="18.20" lengthAdjust="spacingAndGlyphs" fill="#111">JUN</text>
<text x="95.90" y="532.62" font-size="5.211" font-weight="bold" stroke="#111" stroke-width="0.3" fill="#111">L</text>
<text x="106.80" y="535.80" font-size="9.65" font-weight="bold" stroke="#111" stroke-width="0.3" textLength="27.70" lengthAdjust="spacingAndGlyphs" fill="#111">90/159</text>
<text x="153.90" y="535.80" font-size="9.65" font-weight="bold" stroke="#111" stroke-width="0.3" textLength="17.50" lengthAdjust="spacingAndGlyphs" fill="#111">57%</text>
<line x1="71.80" y1="544.00" x2="77.20" y2="544.00" stroke="#f4a0a8" stroke-width="1"/>
<text x="77.50" y="547.90" font-size="9.65" font-weight="bold" stroke="#111" stroke-width="0.3" textLength="18.20" lengthAdjust="spacingAndGlyphs" fill="#111">JUN</text>
<text x="95.90" y="544.72" font-size="5.211" font-weight="bold" stroke="#111" stroke-width="0.3" fill="#111">H</text>
<text x="107.20" y="547.90" font-size="9.65" font-weight="bold" stroke="#111" stroke-width="0.3" textLength="27.70" lengthAdjust="spacingAndGlyphs" fill="#111">88/180</text>
<text x="153.90" y="547.90" font-size="9.65" font-weight="bold" stroke="#111" stroke-width="0.3" textLength="16.90" lengthAdjust="spacingAndGlyphs" fill="#111">49%</text>
<text x="80.90" y="559.90" font-size="9.65" font-weight="bold" stroke="#111" stroke-width="0.3" font-style="italic" textLength="5.98" lengthAdjust="spacingAndGlyphs" fill="#111">P</text>
<text x="91.80" y="559.90" font-size="9.65" font-weight="bold" stroke="#111" stroke-width="0.3" textLength="4.25" lengthAdjust="spacingAndGlyphs" fill="#111">=</text>
<text x="100.30" y="559.90" font-size="9.65" font-weight="bold" stroke="#111" stroke-width="0.3" textLength="17.70" lengthAdjust="spacingAndGlyphs" fill="#111">.065</text>
<text x="127.00" y="559.90" font-size="9.65" font-weight="bold" stroke="#111" stroke-width="0.3" textLength="35.00" lengthAdjust="spacingAndGlyphs" fill="#111">HR=0.76</text>
<text x="81.10" y="572.00" font-size="9.65" font-weight="bold" stroke="#111" stroke-width="0.3" textLength="59.20" lengthAdjust="spacingAndGlyphs" fill="#111">Cutoff=3928.5</text>
<rect x="338.50" y="426.60" width="175.50" height="151.40" fill="none" stroke="#9c9c9c" stroke-width="1.2"/>
<line x1="336.30" y1="431.80" x2="338.50" y2="431.80" stroke="#999" stroke-width="1"/>
<line x1="336.30" y1="459.70" x2="338.50" y2="459.70" stroke="#999" stroke-width="1"/>
<line x1="336.30" y1="487.60" x2="338.50" y2="487.60" stroke="#999" stroke-width="1"/>
<line x1="336.30" y1="515.50" x2="338.50" y2="515.50" stroke="#999" stroke-width="1"/>
<line x1="336.30" y1="543.40" x2="338.50" y2="543.40" stroke="#999" stroke-width="1"/>
<line x1="336.30" y1="571.30" x2="338.50" y2="571.30" stroke="#999" stroke-width="1"/>
<text x="332.20" y="439.10" font-size="12.4" font-weight="bold" stroke="#111" stroke-width="0.3" text-anchor="end" textLength="18.40" lengthAdjust="spacingAndGlyphs" fill="#111">1.0</text>
<text x="332.20" y="467.00" font-size="12.4" font-weight="bold" stroke="#111" stroke-width="0.3" text-anchor="end" textLength="18.40" lengthAdjust="spacingAndGlyphs" fill="#111">0.8</text>
<text x="332.20" y="494.90" font-size="12.4" font-weight="bold" stroke="#111" stroke-width="0.3" text-anchor="end" textLength="18.40" lengthAdjust="spacingAndGlyphs" fill="#111">0.6</text>
<text x="332.20" y="522.80" font-size="12.4" font-weight="bold" stroke="#111" stroke-width="0.3" text-anchor="end" textLength="18.40" lengthAdjust="spacingAndGlyphs" fill="#111">0.4</text>
<text x="332.20" y="550.70" font-size="12.4" font-weight="bold" stroke="#111" stroke-width="0.3" text-anchor="end" textLength="18.40" lengthAdjust="spacingAndGlyphs" fill="#111">0.2</text>
<text x="332.20" y="578.60" font-size="12.4" font-weight="bold" stroke="#111" stroke-width="0.3" text-anchor="end" textLength="18.40" lengthAdjust="spacingAndGlyphs" fill="#111">0.0</text>
<line x1="339.70" y1="578.00" x2="339.70" y2="580.20" stroke="#999" stroke-width="1"/>
<text x="339.70" y="594.70" font-size="12.6" font-weight="bold" stroke="#111" stroke-width="0.3" text-anchor="middle" textLength="7.40" lengthAdjust="spacingAndGlyphs" fill="#111">0</text>
<line x1="381.90" y1="578.00" x2="381.90" y2="580.20" stroke="#999" stroke-width="1"/>
<text x="381.90" y="594.70" font-size="12.6" font-weight="bold" stroke="#111" stroke-width="0.3" text-anchor="middle" textLength="15.60" lengthAdjust="spacingAndGlyphs" fill="#111">10</text>
<line x1="422.70" y1="578.00" x2="422.70" y2="580.20" stroke="#999" stroke-width="1"/>
<text x="422.70" y="594.70" font-size="12.6" font-weight="bold" stroke="#111" stroke-width="0.3" text-anchor="middle" textLength="15.60" lengthAdjust="spacingAndGlyphs" fill="#111">20</text>
<line x1="462.90" y1="578.00" x2="462.90" y2="580.20" stroke="#999" stroke-width="1"/>
<text x="462.90" y="594.70" font-size="12.6" font-weight="bold" stroke="#111" stroke-width="0.3" text-anchor="middle" textLength="15.60" lengthAdjust="spacingAndGlyphs" fill="#111">30</text>
<line x1="503.90" y1="578.00" x2="503.90" y2="580.20" stroke="#999" stroke-width="1"/>
<text x="503.90" y="594.70" font-size="12.6" font-weight="bold" stroke="#111" stroke-width="0.3" text-anchor="middle" textLength="15.60" lengthAdjust="spacingAndGlyphs" fill="#111">40</text>
<text x="331.70" y="613.10" font-size="12.6" font-weight="bold" stroke="#111" stroke-width="0.3" textLength="179.80" lengthAdjust="spacingAndGlyphs" fill="#111">Months from start of therapy</text>
<text transform="translate(305.00,570.00) rotate(-90)" x="0" y="0" font-size="12.0" font-weight="bold" stroke="#111" stroke-width="0.3" textLength="126.50" lengthAdjust="spacingAndGlyphs" fill="#111">Proportion of cases</text>
<text transform="translate(280.88,443.00) scale(0.917,1)" x="0" y="0" font-size="24.71" font-weight="bold" fill="#000" stroke="#000" stroke-width="0.45">F</text>
<text x="446.80" y="441.00" font-size="13.2" font-weight="bold" stroke="#111" stroke-width="0.3" textLength="51.70" lengthAdjust="spacingAndGlyphs" fill="#111">TT3 EFS</text>
<defs><linearGradient id="gFk" gradientUnits="userSpaceOnUse" x1="338.5" y1="0" x2="514" y2="0"><stop offset="0" stop-color="#858585"/><stop offset="0.55" stop-color="#6a6a6a"/><stop offset="1" stop-color="#3e3e3e"/></linearGradient><linearGradient id="gFr" gradientUnits="userSpaceOnUse" x1="338.5" y1="0" x2="514" y2="0"><stop offset="0" stop-color="#f28c96"/><stop offset="0.5" stop-color="#ea5464"/><stop offset="1" stop-color="#d8283a"/></linearGradient></defs>
<path d="M339.00,432.70 H356.30 V432.70 H356.75 V434.65 H357.20 V436.60 H358.65 V439.00 H360.10 V441.40 H362.50 V443.30 H364.90 V445.20 H366.85 V446.65 H368.80 V448.10 H370.70 V449.35 H372.60 V450.60 H388.00 V450.60 H389.90 V452.90 H391.85 V454.85 H393.80 V456.80 H395.70 V457.75 H397.60 V458.70 H399.53 V459.67 H401.47 V460.63 H403.40 V461.60 H405.32 V462.08 H407.25 V462.55 H409.18 V463.02 H411.10 V463.50 H413.00 V464.95 H414.90 V466.40 H417.45 V466.60 H420.00 V466.80 H421.90 V467.35 H423.80 V467.90 H426.25 V468.85 H428.70 V469.80 H430.93 V470.27 H433.17 V470.73 H435.40 V471.20 H438.30 V473.10 H507.50 V473.10 " fill="none" stroke="url(#gFk)" stroke-width="1.25"/>
<path d="M339.00,432.70 H357.20 V432.70 H359.20 V434.70 H361.12 V434.86 H363.03 V435.02 H364.95 V435.18 H366.87 V435.33 H368.78 V435.49 H370.70 V435.65 H372.62 V435.81 H374.53 V435.97 H376.45 V436.12 H378.37 V436.28 H380.28 V436.44 H382.20 V436.60 H384.20 V438.50 H386.12 V438.58 H388.03 V438.67 H389.95 V438.75 H391.87 V438.83 H393.78 V438.92 H395.70 V439.00 H397.62 V439.08 H399.53 V439.17 H401.45 V439.25 H403.37 V439.33 H405.28 V439.42 H407.20 V439.50 H409.15 V439.53 H411.11 V439.55 H413.06 V439.58 H415.02 V439.61 H416.97 V439.64 H418.93 V439.66 H420.88 V439.69 H422.84 V439.72 H424.79 V439.75 H426.75 V439.77 H428.70 V439.80 H431.50 V441.40 H433.43 V441.90 H435.37 V442.40 H437.30 V442.90 H439.23 V443.37 H441.17 V443.83 H443.10 V444.30 H445.00 V444.93 H446.90 V445.57 H448.80 V446.20 H450.73 V446.83 H452.67 V447.47 H454.60 V448.10 H456.55 V449.05 H458.50 V450.00 H506.50 V450.00 " fill="none" stroke="url(#gFr)" stroke-width="1.25"/>
<line x1="439.30" y1="473.10" x2="507.50" y2="473.10" stroke="#303030" stroke-width="2.2" stroke-dasharray="1.2,2.6"/>
<line x1="459.50" y1="450.00" x2="506.50" y2="450.00" stroke="#c82838" stroke-width="2.2" stroke-dasharray="1.2,2.6"/>
<text x="384.20" y="496.10" font-size="11.18" font-weight="bold" stroke="#111" stroke-width="0.3" textLength="45.30" lengthAdjust="spacingAndGlyphs" fill="#111">Events/N</text>
<text x="439.70" y="496.10" font-size="11.18" font-weight="bold" stroke="#111" stroke-width="0.3" textLength="56.50" lengthAdjust="spacingAndGlyphs" fill="#111">Percentage</text>
<line x1="353.80" y1="503.80" x2="358.50" y2="503.80" stroke="#a0a0a0" stroke-width="1"/>
<text x="359.50" y="508.10" font-size="11.18" font-weight="bold" stroke="#111" stroke-width="0.3" textLength="21.30" lengthAdjust="spacingAndGlyphs" fill="#111">JUN</text>
<text x="381.00" y="504.41" font-size="6.0372" font-weight="bold" stroke="#111" stroke-width="0.3" fill="#111">L</text>
<text x="400.80" y="508.10" font-size="11.18" font-weight="bold" stroke="#111" stroke-width="0.3" textLength="25.40" lengthAdjust="spacingAndGlyphs" fill="#111">23/81</text>
<text x="453.80" y="508.10" font-size="11.18" font-weight="bold" stroke="#111" stroke-width="0.3" textLength="20.40" lengthAdjust="spacingAndGlyphs" fill="#111">28%</text>
<line x1="353.80" y1="513.50" x2="358.50" y2="513.50" stroke="#f4a0a8" stroke-width="1"/>
<text x="359.50" y="520.10" font-size="11.18" font-weight="bold" stroke="#111" stroke-width="0.3" textLength="21.30" lengthAdjust="spacingAndGlyphs" fill="#111">JUN</text>
<text x="381.00" y="516.41" font-size="6.0372" font-weight="bold" stroke="#111" stroke-width="0.3" fill="#111">H</text>
<text x="400.80" y="520.10" font-size="11.18" font-weight="bold" stroke="#111" stroke-width="0.3" textLength="31.20" lengthAdjust="spacingAndGlyphs" fill="#111">13/124</text>
<text x="456.20" y="520.10" font-size="11.18" font-weight="bold" stroke="#111" stroke-width="0.3" textLength="18.40" lengthAdjust="spacingAndGlyphs" fill="#111">10%</text>
<text x="405.10" y="531.50" font-size="11.18" font-weight="bold" stroke="#111" stroke-width="0.3" font-style="italic" textLength="6.93" lengthAdjust="spacingAndGlyphs" fill="#111">P</text>
<text x="415.40" y="531.50" font-size="11.18" font-weight="bold" stroke="#111" stroke-width="0.3" textLength="4.92" lengthAdjust="spacingAndGlyphs" fill="#111">=</text>
<text x="425.10" y="531.50" font-size="11.18" font-weight="bold" stroke="#111" stroke-width="0.3" textLength="36.40" lengthAdjust="spacingAndGlyphs" fill="#111">.000537</text>
<text x="405.40" y="544.20" font-size="11.18" font-weight="bold" stroke="#111" stroke-width="0.3" textLength="41.50" lengthAdjust="spacingAndGlyphs" fill="#111">HR=0.32</text>
<text x="405.10" y="556.50" font-size="11.18" font-weight="bold" stroke="#111" stroke-width="0.3" textLength="69.50" lengthAdjust="spacingAndGlyphs" fill="#111">Cutoff=3058.7</text>
<rect x="65.00" y="633.90" width="175.60" height="150.70" fill="none" stroke="#9c9c9c" stroke-width="1.2"/>
<line x1="62.80" y1="639.80" x2="65.00" y2="639.80" stroke="#999" stroke-width="1"/>
<line x1="62.80" y1="667.70" x2="65.00" y2="667.70" stroke="#999" stroke-width="1"/>
<line x1="62.80" y1="695.60" x2="65.00" y2="695.60" stroke="#999" stroke-width="1"/>
<line x1="62.80" y1="723.50" x2="65.00" y2="723.50" stroke="#999" stroke-width="1"/>
<line x1="62.80" y1="751.40" x2="65.00" y2="751.40" stroke="#999" stroke-width="1"/>
<line x1="62.80" y1="779.30" x2="65.00" y2="779.30" stroke="#999" stroke-width="1"/>
<text x="60.80" y="644.80" font-size="12.4" font-weight="bold" stroke="#111" stroke-width="0.3" text-anchor="end" textLength="18.40" lengthAdjust="spacingAndGlyphs" fill="#111">1.0</text>
<text x="60.80" y="673.00" font-size="12.4" font-weight="bold" stroke="#111" stroke-width="0.3" text-anchor="end" textLength="18.40" lengthAdjust="spacingAndGlyphs" fill="#111">0.8</text>
<text x="60.80" y="701.20" font-size="12.4" font-weight="bold" stroke="#111" stroke-width="0.3" text-anchor="end" textLength="18.40" lengthAdjust="spacingAndGlyphs" fill="#111">0.6</text>
<text x="60.80" y="729.40" font-size="12.4" font-weight="bold" stroke="#111" stroke-width="0.3" text-anchor="end" textLength="18.40" lengthAdjust="spacingAndGlyphs" fill="#111">0.4</text>
<text x="60.80" y="757.60" font-size="12.4" font-weight="bold" stroke="#111" stroke-width="0.3" text-anchor="end" textLength="18.40" lengthAdjust="spacingAndGlyphs" fill="#111">0.2</text>
<text x="60.80" y="785.80" font-size="12.4" font-weight="bold" stroke="#111" stroke-width="0.3" text-anchor="end" textLength="18.40" lengthAdjust="spacingAndGlyphs" fill="#111">0.0</text>
<line x1="67.50" y1="784.60" x2="67.50" y2="786.80" stroke="#999" stroke-width="1"/>
<text x="67.50" y="802.00" font-size="12.6" font-weight="bold" stroke="#111" stroke-width="0.3" text-anchor="middle" textLength="7.40" lengthAdjust="spacingAndGlyphs" fill="#111">0</text>
<line x1="104.60" y1="784.60" x2="104.60" y2="786.80" stroke="#999" stroke-width="1"/>
<text x="104.60" y="802.00" font-size="12.6" font-weight="bold" stroke="#111" stroke-width="0.3" text-anchor="middle" textLength="15.60" lengthAdjust="spacingAndGlyphs" fill="#111">20</text>
<line x1="145.80" y1="784.60" x2="145.80" y2="786.80" stroke="#999" stroke-width="1"/>
<text x="145.80" y="802.00" font-size="12.6" font-weight="bold" stroke="#111" stroke-width="0.3" text-anchor="middle" textLength="15.60" lengthAdjust="spacingAndGlyphs" fill="#111">40</text>
<line x1="184.60" y1="784.60" x2="184.60" y2="786.80" stroke="#999" stroke-width="1"/>
<text x="184.60" y="802.00" font-size="12.6" font-weight="bold" stroke="#111" stroke-width="0.3" text-anchor="middle" textLength="15.60" lengthAdjust="spacingAndGlyphs" fill="#111">60</text>
<line x1="223.80" y1="784.60" x2="223.80" y2="786.80" stroke="#999" stroke-width="1"/>
<text x="223.80" y="802.00" font-size="12.6" font-weight="bold" stroke="#111" stroke-width="0.3" text-anchor="middle" textLength="15.60" lengthAdjust="spacingAndGlyphs" fill="#111">80</text>
<text x="60.80" y="820.60" font-size="12.6" font-weight="bold" stroke="#111" stroke-width="0.3" textLength="180.50" lengthAdjust="spacingAndGlyphs" fill="#111">Months from start of therapy</text>
<text transform="translate(35.60,776.40) rotate(-90)" x="0" y="0" font-size="12.0" font-weight="bold" stroke="#111" stroke-width="0.3" textLength="124.70" lengthAdjust="spacingAndGlyphs" fill="#111">Proportion of cases</text>
<text transform="translate(0.80,650.97) scale(0.960,1)" x="0" y="0" font-size="24.01" font-weight="bold" fill="#000" stroke="#000" stroke-width="0.45">G</text>
<text x="188.00" y="653.00" font-size="13.2" font-weight="bold" stroke="#111" stroke-width="0.3" textLength="45.75" lengthAdjust="spacingAndGlyphs" fill="#111">TT2 OS</text>
<defs><linearGradient id="gGk" gradientUnits="userSpaceOnUse" x1="65.0" y1="0" x2="240.6" y2="0"><stop offset="0" stop-color="#858585"/><stop offset="0.55" stop-color="#6a6a6a"/><stop offset="1" stop-color="#3e3e3e"/></linearGradient><linearGradient id="gGr" gradientUnits="userSpaceOnUse" x1="65.0" y1="0" x2="240.6" y2="0"><stop offset="0" stop-color="#f28c96"/><stop offset="0.5" stop-color="#ea5464"/><stop offset="1" stop-color="#d8283a"/></linearGradient></defs>
<path d="M64.60,639.60 H66.40 V640.40 H68.20 V641.20 H70.00 V642.00 H71.80 V642.80 H73.60 V643.60 H75.52 V644.76 H77.44 V645.92 H79.36 V647.08 H81.28 V648.24 H83.20 V649.40 H85.12 V650.16 H87.04 V650.92 H88.96 V651.68 H90.88 V652.44 H92.80 V653.20 H94.74 V654.16 H96.68 V655.12 H98.62 V656.08 H100.56 V657.04 H102.50 V658.00 H104.42 V658.98 H106.35 V659.95 H108.28 V660.92 H110.20 V661.90 H111.47 V663.50 H112.73 V665.10 H114.00 V666.70 H115.92 V667.65 H117.85 V668.60 H119.78 V669.55 H121.70 V670.50 H123.62 V671.48 H125.55 V672.45 H127.48 V673.42 H129.40 V674.40 H131.30 V674.85 H133.20 V675.30 H135.12 V676.27 H137.05 V677.25 H138.97 V678.23 H140.90 V679.20 H142.72 V679.70 H144.54 V680.20 H146.36 V680.70 H148.18 V681.20 H150.00 V681.70 H151.93 V682.53 H153.87 V683.37 H155.80 V684.20 H157.70 V684.47 H159.60 V684.73 H161.50 V685.00 H163.43 V685.15 H165.35 V685.30 H167.27 V685.45 H169.20 V685.60 H171.15 V687.05 H173.10 V688.50 H175.00 V690.40 H176.90 V692.30 H178.85 V694.25 H180.80 V696.20 H182.70 V697.13 H184.60 V698.07 H186.50 V699.00 H188.42 V699.07 H190.34 V699.13 H192.27 V699.20 H194.19 V699.27 H196.11 V699.33 H198.03 V699.40 H199.96 V699.47 H201.88 V699.53 H203.80 V699.60 H205.25 V701.70 H206.70 V703.80 H209.10 V704.30 H211.50 V704.80 H212.17 V706.73 H212.83 V708.67 H213.50 V710.60 H215.42 V710.67 H217.34 V710.73 H219.27 V710.80 H221.19 V710.87 H223.11 V710.93 H225.03 V711.00 H226.96 V711.07 H228.88 V711.13 H230.80 V711.20 " fill="none" stroke="url(#gGk)" stroke-width="1.25"/>
<path d="M64.60,639.60 H66.40 V640.22 H68.20 V640.84 H70.00 V641.46 H71.80 V642.08 H73.60 V642.70 H75.52 V643.66 H77.44 V644.62 H79.36 V645.58 H81.28 V646.54 H83.20 V647.50 H85.12 V648.26 H87.04 V649.02 H88.96 V649.78 H90.88 V650.54 H92.80 V651.30 H94.74 V651.88 H96.68 V652.46 H98.62 V653.04 H100.56 V653.62 H102.50 V654.20 H104.42 V654.58 H106.34 V654.96 H108.26 V655.34 H110.18 V655.72 H112.10 V656.10 H114.02 V656.48 H115.94 V656.86 H117.86 V657.24 H119.78 V657.62 H121.70 V658.00 H123.62 V658.40 H125.54 V658.80 H127.46 V659.20 H129.38 V659.60 H131.30 V660.00 H133.23 V660.70 H135.15 V661.40 H137.07 V662.10 H139.00 V662.80 H140.90 V664.25 H142.80 V665.70 H144.73 V666.20 H146.65 V666.70 H148.57 V667.20 H150.50 V667.70 H152.90 V668.20 H155.30 V668.70 H157.70 V669.20 H159.63 V669.87 H161.57 V670.53 H163.50 V671.20 H165.40 V673.10 H167.30 V675.00 H169.23 V675.95 H171.15 V676.90 H173.07 V677.85 H175.00 V678.80 H176.90 V679.60 H178.80 V680.40 H180.73 V680.45 H182.65 V680.50 H184.57 V680.55 H186.50 V680.60 H188.43 V680.65 H190.35 V680.70 H192.27 V680.75 H194.20 V680.80 H194.87 V682.70 H195.53 V684.60 H196.20 V686.50 H198.10 V686.83 H200.00 V687.17 H201.90 V687.50 H204.80 V690.40 H206.66 V690.42 H208.53 V690.45 H210.39 V690.48 H212.25 V690.50 H214.11 V690.52 H215.97 V690.55 H217.84 V690.57 H219.70 V690.60 H221.56 V690.62 H223.43 V690.65 H225.29 V690.67 H227.15 V690.70 H229.01 V690.72 H230.88 V690.75 H232.74 V690.77 H234.60 V690.80 " fill="none" stroke="url(#gGr)" stroke-width="1.25"/>
<line x1="214.50" y1="711.20" x2="230.80" y2="711.20" stroke="#303030" stroke-width="2.2" stroke-dasharray="1.2,2.6"/>
<line x1="205.80" y1="690.80" x2="234.60" y2="690.80" stroke="#c82838" stroke-width="2.2" stroke-dasharray="1.2,2.6"/>
<text x="106.60" y="717.00" font-size="11.32" font-weight="bold" stroke="#111" stroke-width="0.3" textLength="46.10" lengthAdjust="spacingAndGlyphs" fill="#111">Deaths/N</text>
<text x="163.80" y="717.00" font-size="11.32" font-weight="bold" stroke="#111" stroke-width="0.3" textLength="57.40" lengthAdjust="spacingAndGlyphs" fill="#111">Percentage</text>
<line x1="73.80" y1="726.80" x2="80.00" y2="726.80" stroke="#a0a0a0" stroke-width="1"/>
<text x="81.50" y="729.90" font-size="11.32" font-weight="bold" stroke="#111" stroke-width="0.3" textLength="20.80" lengthAdjust="spacingAndGlyphs" fill="#111">JUN</text>
<text x="102.50" y="726.16" font-size="6.112800000000001" font-weight="bold" stroke="#111" stroke-width="0.3" fill="#111">L</text>
<text x="123.50" y="729.90" font-size="11.32" font-weight="bold" stroke="#111" stroke-width="0.3" textLength="33.00" lengthAdjust="spacingAndGlyphs" fill="#111">60/158</text>
<text x="183.80" y="729.90" font-size="11.32" font-weight="bold" stroke="#111" stroke-width="0.3" textLength="20.40" lengthAdjust="spacingAndGlyphs" fill="#111">36%</text>
<line x1="73.80" y1="738.10" x2="80.00" y2="738.10" stroke="#f4a0a8" stroke-width="1"/>
<text x="81.50" y="741.90" font-size="11.32" font-weight="bold" stroke="#111" stroke-width="0.3" textLength="20.80" lengthAdjust="spacingAndGlyphs" fill="#111">JUN</text>
<text x="102.50" y="738.16" font-size="6.112800000000001" font-weight="bold" stroke="#111" stroke-width="0.3" fill="#111">H</text>
<text x="123.10" y="741.90" font-size="11.32" font-weight="bold" stroke="#111" stroke-width="0.3" textLength="31.90" lengthAdjust="spacingAndGlyphs" fill="#111">51/181</text>
<text x="185.30" y="741.90" font-size="11.32" font-weight="bold" stroke="#111" stroke-width="0.3" textLength="19.70" lengthAdjust="spacingAndGlyphs" fill="#111">28%</text>
<text x="128.20" y="755.00" font-size="11.32" font-weight="bold" stroke="#111" stroke-width="0.3" font-style="italic" textLength="7.02" lengthAdjust="spacingAndGlyphs" fill="#111">P</text>
<text x="137.70" y="755.00" font-size="11.32" font-weight="bold" stroke="#111" stroke-width="0.3" textLength="4.98" lengthAdjust="spacingAndGlyphs" fill="#111">=</text>
<text x="148.10" y="755.00" font-size="11.32" font-weight="bold" stroke="#111" stroke-width="0.3" textLength="26.90" lengthAdjust="spacingAndGlyphs" fill="#111">.0333</text>
<text x="128.50" y="767.30" font-size="11.32" font-weight="bold" stroke="#111" stroke-width="0.3" textLength="41.40" lengthAdjust="spacingAndGlyphs" fill="#111">HR=0.67</text>
<text x="128.50" y="779.90" font-size="11.32" font-weight="bold" stroke="#111" stroke-width="0.3" textLength="61.90" lengthAdjust="spacingAndGlyphs" fill="#111">Cutoff=3903</text>
<rect x="337.80" y="634.20" width="175.50" height="151.60" fill="none" stroke="#9c9c9c" stroke-width="1.2"/>
<line x1="335.60" y1="639.80" x2="337.80" y2="639.80" stroke="#999" stroke-width="1"/>
<line x1="335.60" y1="668.00" x2="337.80" y2="668.00" stroke="#999" stroke-width="1"/>
<line x1="335.60" y1="696.20" x2="337.80" y2="696.20" stroke="#999" stroke-width="1"/>
<line x1="335.60" y1="724.40" x2="337.80" y2="724.40" stroke="#999" stroke-width="1"/>
<line x1="335.60" y1="752.60" x2="337.80" y2="752.60" stroke="#999" stroke-width="1"/>
<line x1="335.60" y1="780.80" x2="337.80" y2="780.80" stroke="#999" stroke-width="1"/>
<text x="333.80" y="644.90" font-size="12.4" font-weight="bold" stroke="#111" stroke-width="0.3" text-anchor="end" textLength="18.40" lengthAdjust="spacingAndGlyphs" fill="#111">1.0</text>
<text x="333.80" y="673.10" font-size="12.4" font-weight="bold" stroke="#111" stroke-width="0.3" text-anchor="end" textLength="18.40" lengthAdjust="spacingAndGlyphs" fill="#111">0.8</text>
<text x="333.80" y="701.30" font-size="12.4" font-weight="bold" stroke="#111" stroke-width="0.3" text-anchor="end" textLength="18.40" lengthAdjust="spacingAndGlyphs" fill="#111">0.6</text>
<text x="333.80" y="729.50" font-size="12.4" font-weight="bold" stroke="#111" stroke-width="0.3" text-anchor="end" textLength="18.40" lengthAdjust="spacingAndGlyphs" fill="#111">0.4</text>
<text x="333.80" y="757.70" font-size="12.4" font-weight="bold" stroke="#111" stroke-width="0.3" text-anchor="end" textLength="18.40" lengthAdjust="spacingAndGlyphs" fill="#111">0.2</text>
<text x="333.80" y="785.90" font-size="12.4" font-weight="bold" stroke="#111" stroke-width="0.3" text-anchor="end" textLength="18.40" lengthAdjust="spacingAndGlyphs" fill="#111">0.0</text>
<line x1="340.10" y1="785.80" x2="340.10" y2="788.00" stroke="#999" stroke-width="1"/>
<text x="340.10" y="801.80" font-size="12.6" font-weight="bold" stroke="#111" stroke-width="0.3" text-anchor="middle" textLength="7.40" lengthAdjust="spacingAndGlyphs" fill="#111">0</text>
<line x1="379.70" y1="785.80" x2="379.70" y2="788.00" stroke="#999" stroke-width="1"/>
<text x="379.70" y="801.80" font-size="12.6" font-weight="bold" stroke="#111" stroke-width="0.3" text-anchor="middle" textLength="15.60" lengthAdjust="spacingAndGlyphs" fill="#111">10</text>
<line x1="421.30" y1="785.80" x2="421.30" y2="788.00" stroke="#999" stroke-width="1"/>
<text x="421.30" y="801.80" font-size="12.6" font-weight="bold" stroke="#111" stroke-width="0.3" text-anchor="middle" textLength="15.60" lengthAdjust="spacingAndGlyphs" fill="#111">20</text>
<line x1="462.30" y1="785.80" x2="462.30" y2="788.00" stroke="#999" stroke-width="1"/>
<text x="462.30" y="801.80" font-size="12.6" font-weight="bold" stroke="#111" stroke-width="0.3" text-anchor="middle" textLength="15.60" lengthAdjust="spacingAndGlyphs" fill="#111">30</text>
<line x1="501.70" y1="785.80" x2="501.70" y2="788.00" stroke="#999" stroke-width="1"/>
<text x="501.70" y="801.80" font-size="12.6" font-weight="bold" stroke="#111" stroke-width="0.3" text-anchor="middle" textLength="15.60" lengthAdjust="spacingAndGlyphs" fill="#111">40</text>
<text x="332.50" y="821.10" font-size="12.6" font-weight="bold" stroke="#111" stroke-width="0.3" textLength="176.00" lengthAdjust="spacingAndGlyphs" fill="#111">Months from start of therapy</text>
<text transform="translate(308.10,777.60) rotate(-90)" x="0" y="0" font-size="12.0" font-weight="bold" stroke="#111" stroke-width="0.3" textLength="125.90" lengthAdjust="spacingAndGlyphs" fill="#111">Proportion of cases</text>
<text transform="translate(281.16,650.80) scale(0.913,1)" x="0" y="0" font-size="25.15" font-weight="bold" fill="#000" stroke="#000" stroke-width="0.45">H</text>
<defs><linearGradient id="gHk" gradientUnits="userSpaceOnUse" x1="337.8" y1="0" x2="513.3" y2="0"><stop offset="0" stop-color="#858585"/><stop offset="0.55" stop-color="#6a6a6a"/><stop offset="1" stop-color="#3e3e3e"/></linearGradient><linearGradient id="gHr" gradientUnits="userSpaceOnUse" x1="337.8" y1="0" x2="513.3" y2="0"><stop offset="0" stop-color="#f28c96"/><stop offset="0.5" stop-color="#ea5464"/><stop offset="1" stop-color="#d8283a"/></linearGradient></defs>
<path d="M338.00,640.20 H357.20 V640.20 H358.80 V642.70 H359.45 V645.10 H360.10 V647.50 H363.00 V650.30 H364.90 V651.75 H366.80 V653.20 H369.70 V655.50 H371.97 V656.03 H374.23 V656.57 H376.50 V657.10 H378.40 V657.73 H380.30 V658.37 H382.20 V659.00 H384.12 V659.58 H386.04 V660.16 H387.96 V660.74 H389.88 V661.32 H391.80 V661.90 H393.73 V662.87 H395.67 V663.83 H397.60 V664.80 H399.55 V666.50 H401.50 V668.20 H404.30 V669.20 H406.38 V669.27 H408.47 V669.33 H410.55 V669.40 H412.63 V669.47 H414.72 V669.53 H416.80 V669.60 H418.75 V671.05 H420.70 V672.50 H423.80 V673.40 H425.73 V673.87 H427.67 V674.33 H429.60 V674.80 H431.53 V675.42 H433.45 V676.05 H435.38 V676.67 H437.30 V677.30 H439.22 V677.36 H441.14 V677.41 H443.07 V677.47 H444.99 V677.52 H446.91 V677.58 H448.83 V677.63 H450.76 V677.69 H452.68 V677.74 H454.60 V677.80 H457.50 V680.50 H507.50 V680.50 " fill="none" stroke="url(#gHk)" stroke-width="1.25"/>
<path d="M338.00,640.20 H357.00 V640.20 H359.20 V642.10 H361.12 V642.31 H363.03 V642.52 H364.95 V642.73 H366.87 V642.93 H368.78 V643.14 H370.70 V643.35 H372.62 V643.56 H374.53 V643.77 H376.45 V643.98 H378.37 V644.18 H380.28 V644.39 H382.20 V644.60 H420.00 V644.60 H421.93 V644.69 H423.86 V644.77 H425.79 V644.86 H427.71 V644.94 H429.64 V645.03 H431.57 V645.11 H433.50 V645.20 H435.40 V646.50 H456.50 V646.50 H458.50 V648.40 H507.50 V648.40 " fill="none" stroke="url(#gHr)" stroke-width="1.25"/>
<line x1="458.50" y1="680.50" x2="507.50" y2="680.50" stroke="#303030" stroke-width="2.2" stroke-dasharray="1.2,2.6"/>
<line x1="459.50" y1="648.40" x2="507.50" y2="648.40" stroke="#c82838" stroke-width="2.2" stroke-dasharray="1.2,2.6"/>
<text x="388.70" y="705.70" font-size="11.24" font-weight="bold" stroke="#111" stroke-width="0.3" textLength="46.20" lengthAdjust="spacingAndGlyphs" fill="#111">Deaths/N</text>
<text x="444.20" y="705.70" font-size="11.24" font-weight="bold" stroke="#111" stroke-width="0.3" textLength="57.10" lengthAdjust="spacingAndGlyphs" fill="#111">Percentage</text>
<line x1="358.50" y1="714.90" x2="363.70" y2="714.90" stroke="#a0a0a0" stroke-width="1"/>
<text x="366.20" y="718.40" font-size="11.24" font-weight="bold" stroke="#111" stroke-width="0.3" textLength="20.80" lengthAdjust="spacingAndGlyphs" fill="#111">JUN</text>
<text x="387.20" y="714.69" font-size="6.0696" font-weight="bold" stroke="#111" stroke-width="0.3" fill="#111">L</text>
<text x="407.20" y="718.40" font-size="11.24" font-weight="bold" stroke="#111" stroke-width="0.3" textLength="26.00" lengthAdjust="spacingAndGlyphs" fill="#111">22/81</text>
<text x="460.10" y="718.40" font-size="11.24" font-weight="bold" stroke="#111" stroke-width="0.3" textLength="20.80" lengthAdjust="spacingAndGlyphs" fill="#111">27%</text>
<line x1="358.50" y1="724.40" x2="363.70" y2="724.40" stroke="#f4a0a8" stroke-width="1"/>
<text x="366.20" y="729.60" font-size="11.24" font-weight="bold" stroke="#111" stroke-width="0.3" textLength="20.80" lengthAdjust="spacingAndGlyphs" fill="#111">JUN</text>
<text x="387.20" y="725.89" font-size="6.0696" font-weight="bold" stroke="#111" stroke-width="0.3" fill="#111">H</text>
<text x="407.80" y="729.60" font-size="11.24" font-weight="bold" stroke="#111" stroke-width="0.3" textLength="25.40" lengthAdjust="spacingAndGlyphs" fill="#111">7/124</text>
<text x="460.70" y="729.60" font-size="11.24" font-weight="bold" stroke="#111" stroke-width="0.3" textLength="15.00" lengthAdjust="spacingAndGlyphs" fill="#111">6%</text>
<text x="410.60" y="741.70" font-size="11.24" font-weight="bold" stroke="#111" stroke-width="0.3" font-style="italic" textLength="6.97" lengthAdjust="spacingAndGlyphs" fill="#111">P</text>
<text x="420.20" y="741.70" font-size="11.24" font-weight="bold" stroke="#111" stroke-width="0.3" textLength="4.95" lengthAdjust="spacingAndGlyphs" fill="#111">=</text>
<text x="430.70" y="741.70" font-size="11.24" font-weight="bold" stroke="#111" stroke-width="0.3" textLength="44.30" lengthAdjust="spacingAndGlyphs" fill="#111">.0000109</text>
<text x="411.20" y="753.80" font-size="11.24" font-weight="bold" stroke="#111" stroke-width="0.3" textLength="42.50" lengthAdjust="spacingAndGlyphs" fill="#111">HR=0.18</text>
<text x="411.20" y="765.90" font-size="11.24" font-weight="bold" stroke="#111" stroke-width="0.3" textLength="69.70" lengthAdjust="spacingAndGlyphs" fill="#111">Cutoff=3058.7</text>
<rect x="63.80" y="842.80" width="172.70" height="149.80" fill="none" stroke="#9c9c9c" stroke-width="1.2"/>
<line x1="61.60" y1="848.50" x2="63.80" y2="848.50" stroke="#999" stroke-width="1"/>
<line x1="61.60" y1="876.15" x2="63.80" y2="876.15" stroke="#999" stroke-width="1"/>
<line x1="61.60" y1="903.80" x2="63.80" y2="903.80" stroke="#999" stroke-width="1"/>
<line x1="61.60" y1="931.45" x2="63.80" y2="931.45" stroke="#999" stroke-width="1"/>
<line x1="61.60" y1="959.10" x2="63.80" y2="959.10" stroke="#999" stroke-width="1"/>
<line x1="61.60" y1="986.75" x2="63.80" y2="986.75" stroke="#999" stroke-width="1"/>
<text x="60.20" y="852.30" font-size="12.4" font-weight="bold" stroke="#111" stroke-width="0.3" text-anchor="end" textLength="18.40" lengthAdjust="spacingAndGlyphs" fill="#111">1.0</text>
<text x="60.20" y="880.05" font-size="12.4" font-weight="bold" stroke="#111" stroke-width="0.3" text-anchor="end" textLength="18.40" lengthAdjust="spacingAndGlyphs" fill="#111">0.8</text>
<text x="60.20" y="907.80" font-size="12.4" font-weight="bold" stroke="#111" stroke-width="0.3" text-anchor="end" textLength="18.40" lengthAdjust="spacingAndGlyphs" fill="#111">0.6</text>
<text x="60.20" y="935.55" font-size="12.4" font-weight="bold" stroke="#111" stroke-width="0.3" text-anchor="end" textLength="18.40" lengthAdjust="spacingAndGlyphs" fill="#111">0.4</text>
<text x="60.20" y="963.30" font-size="12.4" font-weight="bold" stroke="#111" stroke-width="0.3" text-anchor="end" textLength="18.40" lengthAdjust="spacingAndGlyphs" fill="#111">0.2</text>
<text x="60.20" y="991.05" font-size="12.4" font-weight="bold" stroke="#111" stroke-width="0.3" text-anchor="end" textLength="18.40" lengthAdjust="spacingAndGlyphs" fill="#111">0.0</text>
<line x1="66.40" y1="992.60" x2="66.40" y2="994.80" stroke="#999" stroke-width="1"/>
<text x="66.40" y="1006.50" font-size="12.6" font-weight="bold" stroke="#111" stroke-width="0.3" text-anchor="middle" textLength="7.40" lengthAdjust="spacingAndGlyphs" fill="#111">0</text>
<line x1="102.90" y1="992.60" x2="102.90" y2="994.80" stroke="#999" stroke-width="1"/>
<text x="102.90" y="1006.50" font-size="12.6" font-weight="bold" stroke="#111" stroke-width="0.3" text-anchor="middle" textLength="15.60" lengthAdjust="spacingAndGlyphs" fill="#111">20</text>
<line x1="143.10" y1="992.60" x2="143.10" y2="994.80" stroke="#999" stroke-width="1"/>
<text x="143.10" y="1006.50" font-size="12.6" font-weight="bold" stroke="#111" stroke-width="0.3" text-anchor="middle" textLength="15.60" lengthAdjust="spacingAndGlyphs" fill="#111">40</text>
<line x1="180.40" y1="992.60" x2="180.40" y2="994.80" stroke="#999" stroke-width="1"/>
<text x="180.40" y="1006.50" font-size="12.6" font-weight="bold" stroke="#111" stroke-width="0.3" text-anchor="middle" textLength="15.60" lengthAdjust="spacingAndGlyphs" fill="#111">60</text>
<line x1="217.80" y1="992.60" x2="217.80" y2="994.80" stroke="#999" stroke-width="1"/>
<text x="217.80" y="1006.50" font-size="12.6" font-weight="bold" stroke="#111" stroke-width="0.3" text-anchor="middle" textLength="15.60" lengthAdjust="spacingAndGlyphs" fill="#111">80</text>
<text x="58.90" y="1026.40" font-size="12.6" font-weight="bold" stroke="#111" stroke-width="0.3" textLength="177.80" lengthAdjust="spacingAndGlyphs" fill="#111">Months from start of therapy</text>
<text transform="translate(33.10,982.70) rotate(-90)" x="0" y="0" font-size="12.0" font-weight="bold" stroke="#111" stroke-width="0.3" textLength="123.50" lengthAdjust="spacingAndGlyphs" fill="#111">Proportion of cases</text>
<text transform="translate(3.76,860.50) scale(0.887,1)" x="0" y="0" font-size="24.27" font-weight="bold" fill="#000" stroke="#000" stroke-width="0.45">I</text>
<text x="177.00" y="858.00" font-size="13.2" stroke="#111" stroke-width="0.18" textLength="52.50" lengthAdjust="spacingAndGlyphs" fill="#111">TT2 EFS</text>
<defs><linearGradient id="gIk" gradientUnits="userSpaceOnUse" x1="63.8" y1="0" x2="236.5" y2="0"><stop offset="0" stop-color="#858585"/><stop offset="0.55" stop-color="#6a6a6a"/><stop offset="1" stop-color="#3e3e3e"/></linearGradient><linearGradient id="gIr" gradientUnits="userSpaceOnUse" x1="63.8" y1="0" x2="236.5" y2="0"><stop offset="0" stop-color="#f28c96"/><stop offset="0.5" stop-color="#ea5464"/><stop offset="1" stop-color="#d8283a"/></linearGradient></defs>
<path d="M64.00,848.80 H66.15 V850.00 H68.30 V851.20 H70.45 V852.40 H72.60 V853.60 H74.52 V855.27 H76.45 V856.95 H78.38 V858.62 H80.30 V860.30 H81.27 V861.90 H82.23 V863.50 H83.20 V865.10 H84.17 V866.70 H85.13 V868.30 H86.10 V869.90 H88.02 V870.38 H89.95 V870.85 H91.88 V871.32 H93.80 V871.80 H95.72 V873.72 H97.65 V875.65 H99.58 V877.58 H101.50 V879.50 H103.42 V880.86 H105.34 V882.22 H107.26 V883.58 H109.18 V884.94 H111.10 V886.30 H113.02 V887.26 H114.94 V888.22 H116.86 V889.18 H118.78 V890.14 H120.70 V891.10 H122.62 V893.02 H124.55 V894.95 H126.48 V896.88 H128.40 V898.80 H130.32 V900.22 H132.25 V901.65 H134.18 V903.08 H136.10 V904.50 H138.05 V906.00 H140.00 V907.50 H141.93 V909.17 H143.85 V910.85 H145.77 V912.53 H147.70 V914.20 H149.62 V915.90 H151.55 V917.60 H153.47 V919.30 H155.40 V921.00 H157.32 V922.20 H159.25 V923.40 H161.18 V924.60 H163.10 V925.80 H165.02 V926.76 H166.94 V927.72 H168.86 V928.68 H170.78 V929.64 H172.70 V930.60 H174.62 V930.78 H176.54 V930.96 H178.46 V931.14 H180.38 V931.32 H182.30 V931.50 H184.25 V932.50 H186.20 V933.50 H188.10 V933.73 H190.00 V933.95 H191.90 V934.17 H193.80 V934.40 H195.80 V937.30 H197.88 V937.47 H199.97 V937.63 H202.05 V937.80 H204.13 V937.97 H206.22 V938.13 H208.30 V938.30 H208.45 V940.05 H208.60 V941.80 H208.75 V943.55 H208.90 V945.30 H209.05 V947.05 H209.20 V948.80 H211.12 V948.92 H213.05 V949.05 H214.97 V949.17 H216.90 V949.30 H218.82 V949.42 H220.75 V949.55 H222.67 V949.67 H224.60 V949.80 " fill="none" stroke="url(#gIk)" stroke-width="1.25"/>
<path d="M64.00,848.80 H66.15 V849.75 H68.30 V850.70 H70.45 V851.65 H72.60 V852.60 H74.52 V853.56 H76.44 V854.52 H78.36 V855.48 H80.28 V856.44 H82.20 V857.40 H84.12 V858.76 H86.04 V860.12 H87.96 V861.48 H89.88 V862.84 H91.80 V864.20 H93.74 V865.34 H95.68 V866.48 H97.62 V867.62 H99.56 V868.76 H101.50 V869.90 H103.42 V870.68 H105.34 V871.46 H107.26 V872.24 H109.18 V873.02 H111.10 V873.80 H113.02 V874.18 H114.94 V874.56 H116.86 V874.94 H118.78 V875.32 H120.70 V875.70 H122.62 V876.08 H124.54 V876.46 H126.46 V876.84 H128.38 V877.22 H130.30 V877.60 H132.23 V878.90 H134.17 V880.20 H136.10 V881.50 H138.05 V883.45 H140.00 V885.40 H141.93 V886.12 H143.85 V886.85 H145.77 V887.57 H147.70 V888.30 H149.62 V889.02 H151.55 V889.75 H153.47 V890.48 H155.40 V891.20 H157.32 V892.15 H159.25 V893.10 H161.18 V894.05 H163.10 V895.00 H165.03 V896.20 H166.95 V897.40 H168.88 V898.60 H170.80 V899.80 H172.70 V900.75 H174.60 V901.70 H176.52 V901.82 H178.44 V901.94 H180.36 V902.06 H182.28 V902.18 H184.20 V902.30 H185.65 V903.95 H187.10 V905.60 H187.82 V907.27 H188.55 V908.95 H189.28 V910.62 H190.00 V912.30 H191.93 V912.77 H193.85 V913.25 H195.77 V913.73 H197.70 V914.20 H198.97 V916.13 H200.23 V918.07 H201.50 V920.00 H202.17 V921.93 H202.83 V923.87 H203.50 V925.80 H205.42 V925.88 H207.34 V925.96 H209.26 V926.04 H211.18 V926.12 H213.10 V926.20 H213.28 V928.12 H213.46 V930.04 H213.64 V931.96 H213.82 V933.88 H214.00 V935.80 H215.82 V935.86 H217.64 V935.91 H219.47 V935.97 H221.29 V936.02 H223.11 V936.08 H224.93 V936.13 H226.76 V936.19 H228.58 V936.24 H230.40 V936.30 " fill="none" stroke="url(#gIr)" stroke-width="1.25"/>
<line x1="210.20" y1="949.80" x2="224.60" y2="949.80" stroke="#303030" stroke-width="2.2" stroke-dasharray="1.2,2.6"/>
<line x1="215.00" y1="936.30" x2="230.40" y2="936.30" stroke="#c82838" stroke-width="2.2" stroke-dasharray="1.2,2.6"/>
<text x="101.70" y="941.50" font-size="11.18" font-weight="bold" stroke="#111" stroke-width="0.3" textLength="44.80" lengthAdjust="spacingAndGlyphs" fill="#111">Events/N</text>
<text x="153.80" y="941.50" font-size="11.18" font-weight="bold" stroke="#111" stroke-width="0.3" textLength="56.90" lengthAdjust="spacingAndGlyphs" fill="#111">Percentage</text>
<line x1="68.20" y1="951.80" x2="73.10" y2="951.80" stroke="#a0a0a0" stroke-width="1"/>
<text x="75.80" y="953.80" font-size="11.18" font-weight="bold" stroke="#111" stroke-width="0.3" textLength="27.40" lengthAdjust="spacingAndGlyphs" fill="#111">EGR1</text>
<text x="103.40" y="950.11" font-size="6.0372" font-weight="bold" stroke="#111" stroke-width="0.3" fill="#111">L</text>
<text x="112.80" y="953.80" font-size="11.18" font-weight="bold" stroke="#111" stroke-width="0.3" textLength="37.60" lengthAdjust="spacingAndGlyphs" fill="#111">135/234</text>
<text x="175.30" y="953.80" font-size="11.18" font-weight="bold" stroke="#111" stroke-width="0.3" textLength="20.00" lengthAdjust="spacingAndGlyphs" fill="#111">58%</text>
<line x1="68.20" y1="961.10" x2="73.10" y2="961.10" stroke="#f4a0a8" stroke-width="1"/>
<text x="75.80" y="965.70" font-size="11.18" font-weight="bold" stroke="#111" stroke-width="0.3" textLength="27.40" lengthAdjust="spacingAndGlyphs" fill="#111">EGR1</text>
<text x="103.40" y="962.01" font-size="6.0372" font-weight="bold" stroke="#111" stroke-width="0.3" fill="#111">H</text>
<text x="119.70" y="965.70" font-size="11.18" font-weight="bold" stroke="#111" stroke-width="0.3" textLength="31.90" lengthAdjust="spacingAndGlyphs" fill="#111">43/105</text>
<text x="176.80" y="965.70" font-size="11.18" font-weight="bold" stroke="#111" stroke-width="0.3" textLength="20.00" lengthAdjust="spacingAndGlyphs" fill="#111">41%</text>
<text x="74.90" y="977.50" font-size="11.18" font-weight="bold" stroke="#111" stroke-width="0.3" font-style="italic" textLength="6.93" lengthAdjust="spacingAndGlyphs" fill="#111">P</text>
<text x="85.10" y="977.50" font-size="11.18" font-weight="bold" stroke="#111" stroke-width="0.3" textLength="4.92" lengthAdjust="spacingAndGlyphs" fill="#111">=</text>
<text x="95.10" y="977.50" font-size="11.18" font-weight="bold" stroke="#111" stroke-width="0.3" textLength="31.20" lengthAdjust="spacingAndGlyphs" fill="#111">.00211</text>
<text x="137.30" y="977.50" font-size="11.18" font-weight="bold" stroke="#111" stroke-width="0.3" textLength="41.10" lengthAdjust="spacingAndGlyphs" fill="#111">HR=0.59</text>
<text x="75.80" y="989.20" font-size="11.18" font-weight="bold" stroke="#111" stroke-width="0.3" textLength="70.00" lengthAdjust="spacingAndGlyphs" fill="#111">Cutoff=2108.6</text>
<rect x="338.20" y="843.40" width="172.20" height="149.20" fill="none" stroke="#9c9c9c" stroke-width="1.2"/>
<line x1="336.00" y1="848.50" x2="338.20" y2="848.50" stroke="#999" stroke-width="1"/>
<line x1="336.00" y1="876.15" x2="338.20" y2="876.15" stroke="#999" stroke-width="1"/>
<line x1="336.00" y1="903.80" x2="338.20" y2="903.80" stroke="#999" stroke-width="1"/>
<line x1="336.00" y1="931.45" x2="338.20" y2="931.45" stroke="#999" stroke-width="1"/>
<line x1="336.00" y1="959.10" x2="338.20" y2="959.10" stroke="#999" stroke-width="1"/>
<line x1="336.00" y1="986.75" x2="338.20" y2="986.75" stroke="#999" stroke-width="1"/>
<text x="333.80" y="852.80" font-size="12.4" font-weight="bold" stroke="#111" stroke-width="0.3" text-anchor="end" textLength="18.40" lengthAdjust="spacingAndGlyphs" fill="#111">1.0</text>
<text x="333.80" y="880.45" font-size="12.4" font-weight="bold" stroke="#111" stroke-width="0.3" text-anchor="end" textLength="18.40" lengthAdjust="spacingAndGlyphs" fill="#111">0.8</text>
<text x="333.80" y="908.10" font-size="12.4" font-weight="bold" stroke="#111" stroke-width="0.3" text-anchor="end" textLength="18.40" lengthAdjust="spacingAndGlyphs" fill="#111">0.6</text>
<text x="333.80" y="935.75" font-size="12.4" font-weight="bold" stroke="#111" stroke-width="0.3" text-anchor="end" textLength="18.40" lengthAdjust="spacingAndGlyphs" fill="#111">0.4</text>
<text x="333.80" y="963.40" font-size="12.4" font-weight="bold" stroke="#111" stroke-width="0.3" text-anchor="end" textLength="18.40" lengthAdjust="spacingAndGlyphs" fill="#111">0.2</text>
<text x="333.80" y="991.05" font-size="12.4" font-weight="bold" stroke="#111" stroke-width="0.3" text-anchor="end" textLength="18.40" lengthAdjust="spacingAndGlyphs" fill="#111">0.0</text>
<line x1="340.20" y1="992.60" x2="340.20" y2="994.80" stroke="#999" stroke-width="1"/>
<text x="340.20" y="1007.10" font-size="12.6" font-weight="bold" stroke="#111" stroke-width="0.3" text-anchor="middle" textLength="7.40" lengthAdjust="spacingAndGlyphs" fill="#111">0</text>
<line x1="378.50" y1="992.60" x2="378.50" y2="994.80" stroke="#999" stroke-width="1"/>
<text x="378.50" y="1007.10" font-size="12.6" font-weight="bold" stroke="#111" stroke-width="0.3" text-anchor="middle" textLength="15.60" lengthAdjust="spacingAndGlyphs" fill="#111">10</text>
<line x1="419.70" y1="992.60" x2="419.70" y2="994.80" stroke="#999" stroke-width="1"/>
<text x="419.70" y="1007.10" font-size="12.6" font-weight="bold" stroke="#111" stroke-width="0.3" text-anchor="middle" textLength="15.60" lengthAdjust="spacingAndGlyphs" fill="#111">20</text>
<line x1="459.90" y1="992.60" x2="459.90" y2="994.80" stroke="#999" stroke-width="1"/>
<text x="459.90" y="1007.10" font-size="12.6" font-weight="bold" stroke="#111" stroke-width="0.3" text-anchor="middle" textLength="15.60" lengthAdjust="spacingAndGlyphs" fill="#111">30</text>
<line x1="500.20" y1="992.60" x2="500.20" y2="994.80" stroke="#999" stroke-width="1"/>
<text x="500.20" y="1007.10" font-size="12.6" font-weight="bold" stroke="#111" stroke-width="0.3" text-anchor="middle" textLength="15.60" lengthAdjust="spacingAndGlyphs" fill="#111">40</text>
<text x="332.00" y="1026.00" font-size="12.6" font-weight="bold" stroke="#111" stroke-width="0.3" textLength="179.10" lengthAdjust="spacingAndGlyphs" fill="#111">Months from start of therapy</text>
<text transform="translate(307.50,982.70) rotate(-90)" x="0" y="0" font-size="12.0" font-weight="bold" stroke="#111" stroke-width="0.3" textLength="123.50" lengthAdjust="spacingAndGlyphs" fill="#111">Proportion of cases</text>
<text transform="translate(282.36,860.26) scale(0.905,1)" x="0" y="0" font-size="24.79" font-weight="bold" fill="#000" stroke="#000" stroke-width="0.45">J</text>
<text x="452.70" y="858.70" font-size="13.2" stroke="#111" stroke-width="0.18" textLength="49.00" lengthAdjust="spacingAndGlyphs" fill="#111">TT3 EFS</text>
<defs><linearGradient id="gJk" gradientUnits="userSpaceOnUse" x1="338.2" y1="0" x2="510.4" y2="0"><stop offset="0" stop-color="#858585"/><stop offset="0.55" stop-color="#6a6a6a"/><stop offset="1" stop-color="#3e3e3e"/></linearGradient><linearGradient id="gJr" gradientUnits="userSpaceOnUse" x1="338.2" y1="0" x2="510.4" y2="0"><stop offset="0" stop-color="#f28c96"/><stop offset="0.5" stop-color="#ea5464"/><stop offset="1" stop-color="#d8283a"/></linearGradient></defs>
<path d="M338.50,849.20 H356.30 V849.20 H357.55 V850.90 H358.80 V852.60 H359.95 V854.55 H361.10 V856.50 H363.00 V858.40 H364.90 V860.30 H367.80 V862.20 H369.72 V862.37 H371.63 V862.53 H373.55 V862.70 H375.47 V862.87 H377.38 V863.03 H379.30 V863.20 H382.20 V865.70 H384.13 V866.13 H386.07 V866.57 H388.00 V867.00 H388.95 V869.40 H389.90 V871.80 H391.20 V873.43 H392.50 V875.07 H393.80 V876.70 H395.70 V877.33 H397.60 V877.97 H399.50 V878.60 H401.43 V878.92 H403.37 V879.23 H405.30 V879.55 H407.23 V879.87 H409.17 V880.18 H411.10 V880.50 H414.00 V882.40 H415.90 V882.73 H417.80 V883.07 H419.70 V883.40 H422.60 V884.90 H425.00 V885.10 H427.40 V885.30 H428.37 V887.23 H429.33 V889.17 H430.30 V891.10 H432.14 V891.15 H433.98 V891.20 H435.81 V891.25 H437.65 V891.30 H439.49 V891.35 H441.32 V891.40 H443.16 V891.45 H445.00 V891.50 H446.45 V893.70 H447.90 V895.90 H448.85 V897.80 H449.80 V899.70 H451.61 V899.71 H453.43 V899.73 H455.24 V899.74 H457.06 V899.76 H458.87 V899.77 H460.69 V899.79 H462.50 V899.80 H464.32 V899.82 H466.13 V899.83 H467.95 V899.85 H469.76 V899.86 H471.58 V899.88 H473.39 V899.89 H475.21 V899.91 H477.02 V899.92 H478.84 V899.94 H480.65 V899.95 H482.47 V899.97 H484.28 V899.98 H486.10 V900.00 H487.91 V900.01 H489.73 V900.03 H491.54 V900.04 H493.36 V900.06 H495.17 V900.07 H496.99 V900.09 H498.80 V900.10 " fill="none" stroke="url(#gJk)" stroke-width="1.25"/>
<path d="M338.50,849.20 H356.30 V849.20 H357.90 V850.87 H359.50 V852.53 H361.10 V854.20 H363.02 V854.73 H364.93 V855.27 H366.85 V855.80 H368.77 V856.33 H370.68 V856.87 H372.60 V857.40 H374.53 V857.52 H376.45 V857.63 H378.38 V857.75 H380.30 V857.87 H382.23 V857.98 H384.15 V858.10 H386.07 V858.22 H388.00 V858.33 H389.93 V858.45 H391.85 V858.57 H393.77 V858.68 H395.70 V858.80 H397.62 V859.22 H399.53 V859.63 H401.45 V860.05 H403.37 V860.47 H405.28 V860.88 H407.20 V861.30 H409.03 V861.43 H410.86 V861.56 H412.69 V861.69 H414.51 V861.81 H416.34 V861.94 H418.17 V862.07 H420.00 V862.20 H421.92 V862.27 H423.83 V862.33 H425.75 V862.40 H427.67 V862.47 H429.58 V862.53 H431.50 V862.60 H433.43 V863.38 H435.35 V864.15 H437.27 V864.93 H439.20 V865.70 H441.12 V865.80 H443.05 V865.90 H444.98 V866.00 H446.90 V866.10 H448.82 V866.20 H450.75 V866.30 H452.68 V866.40 H454.60 V866.50 H456.50 V868.00 H504.60 V868.00 " fill="none" stroke="url(#gJr)" stroke-width="1.25"/>
<line x1="450.80" y1="900.10" x2="498.80" y2="900.10" stroke="#303030" stroke-width="2.2" stroke-dasharray="1.2,2.6"/>
<line x1="457.50" y1="868.00" x2="504.60" y2="868.00" stroke="#c82838" stroke-width="2.2" stroke-dasharray="1.2,2.6"/>
<text x="381.20" y="914.50" font-size="10.81" font-weight="bold" stroke="#111" stroke-width="0.3" textLength="43.30" lengthAdjust="spacingAndGlyphs" fill="#111">Events/N</text>
<text x="431.60" y="914.50" font-size="10.81" font-weight="bold" stroke="#111" stroke-width="0.3" textLength="55.40" lengthAdjust="spacingAndGlyphs" fill="#111">Percentage</text>
<line x1="348.80" y1="925.00" x2="354.20" y2="925.00" stroke="#a0a0a0" stroke-width="1"/>
<text x="355.80" y="926.50" font-size="10.81" font-weight="bold" stroke="#111" stroke-width="0.3" textLength="26.10" lengthAdjust="spacingAndGlyphs" fill="#111">EGR1</text>
<text x="382.10" y="922.93" font-size="5.837400000000001" font-weight="bold" stroke="#111" stroke-width="0.3" fill="#111">L</text>
<text x="391.20" y="926.50" font-size="10.81" font-weight="bold" stroke="#111" stroke-width="0.3" textLength="25.30" lengthAdjust="spacingAndGlyphs" fill="#111">17/51</text>
<text x="440.40" y="926.50" font-size="10.81" font-weight="bold" stroke="#111" stroke-width="0.3" textLength="20.00" lengthAdjust="spacingAndGlyphs" fill="#111">33%</text>
<line x1="348.80" y1="933.90" x2="354.20" y2="933.90" stroke="#f4a0a8" stroke-width="1"/>
<text x="355.80" y="938.80" font-size="10.81" font-weight="bold" stroke="#111" stroke-width="0.3" textLength="26.10" lengthAdjust="spacingAndGlyphs" fill="#111">EGR1</text>
<text x="382.10" y="935.23" font-size="5.837400000000001" font-weight="bold" stroke="#111" stroke-width="0.3" fill="#111">H</text>
<text x="392.70" y="938.80" font-size="10.81" font-weight="bold" stroke="#111" stroke-width="0.3" textLength="30.80" lengthAdjust="spacingAndGlyphs" fill="#111">19/154</text>
<text x="440.40" y="938.80" font-size="10.81" font-weight="bold" stroke="#111" stroke-width="0.3" textLength="18.40" lengthAdjust="spacingAndGlyphs" fill="#111">12%</text>
<text x="376.70" y="951.20" font-size="10.81" font-weight="bold" stroke="#111" stroke-width="0.3" font-style="italic" textLength="6.70" lengthAdjust="spacingAndGlyphs" fill="#111">P</text>
<text x="386.50" y="951.20" font-size="10.81" font-weight="bold" stroke="#111" stroke-width="0.3" textLength="4.76" lengthAdjust="spacingAndGlyphs" fill="#111">=</text>
<text x="396.50" y="951.20" font-size="10.81" font-weight="bold" stroke="#111" stroke-width="0.3" textLength="36.70" lengthAdjust="spacingAndGlyphs" fill="#111">.000457</text>
<text x="377.30" y="963.20" font-size="10.81" font-weight="bold" stroke="#111" stroke-width="0.3" textLength="39.20" lengthAdjust="spacingAndGlyphs" fill="#111">HR=0.33</text>
<text x="377.30" y="975.00" font-size="10.81" font-weight="bold" stroke="#111" stroke-width="0.3" textLength="61.10" lengthAdjust="spacingAndGlyphs" fill="#111">Cutoff=940.8</text>
<rect x="63.80" y="1033.50" width="172.60" height="149.70" fill="none" stroke="#9c9c9c" stroke-width="1.2"/>
<line x1="61.60" y1="1038.75" x2="63.80" y2="1038.75" stroke="#999" stroke-width="1"/>
<line x1="61.60" y1="1066.40" x2="63.80" y2="1066.40" stroke="#999" stroke-width="1"/>
<line x1="61.60" y1="1094.05" x2="63.80" y2="1094.05" stroke="#999" stroke-width="1"/>
<line x1="61.60" y1="1121.70" x2="63.80" y2="1121.70" stroke="#999" stroke-width="1"/>
<line x1="61.60" y1="1149.35" x2="63.80" y2="1149.35" stroke="#999" stroke-width="1"/>
<line x1="61.60" y1="1177.00" x2="63.80" y2="1177.00" stroke="#999" stroke-width="1"/>
<text x="60.60" y="1043.10" font-size="12.4" font-weight="bold" stroke="#111" stroke-width="0.3" text-anchor="end" textLength="18.40" lengthAdjust="spacingAndGlyphs" fill="#111">1.0</text>
<text x="60.60" y="1070.80" font-size="12.4" font-weight="bold" stroke="#111" stroke-width="0.3" text-anchor="end" textLength="18.40" lengthAdjust="spacingAndGlyphs" fill="#111">0.8</text>
<text x="60.60" y="1098.50" font-size="12.4" font-weight="bold" stroke="#111" stroke-width="0.3" text-anchor="end" textLength="18.40" lengthAdjust="spacingAndGlyphs" fill="#111">0.6</text>
<text x="60.60" y="1126.20" font-size="12.4" font-weight="bold" stroke="#111" stroke-width="0.3" text-anchor="end" textLength="18.40" lengthAdjust="spacingAndGlyphs" fill="#111">0.4</text>
<text x="60.60" y="1153.90" font-size="12.4" font-weight="bold" stroke="#111" stroke-width="0.3" text-anchor="end" textLength="18.40" lengthAdjust="spacingAndGlyphs" fill="#111">0.2</text>
<text x="60.60" y="1181.60" font-size="12.4" font-weight="bold" stroke="#111" stroke-width="0.3" text-anchor="end" textLength="18.40" lengthAdjust="spacingAndGlyphs" fill="#111">0.0</text>
<line x1="66.30" y1="1183.20" x2="66.30" y2="1185.40" stroke="#999" stroke-width="1"/>
<text x="66.30" y="1197.40" font-size="12.6" font-weight="bold" stroke="#111" stroke-width="0.3" text-anchor="middle" textLength="7.40" lengthAdjust="spacingAndGlyphs" fill="#111">0</text>
<line x1="102.60" y1="1183.20" x2="102.60" y2="1185.40" stroke="#999" stroke-width="1"/>
<text x="102.60" y="1197.40" font-size="12.6" font-weight="bold" stroke="#111" stroke-width="0.3" text-anchor="middle" textLength="15.60" lengthAdjust="spacingAndGlyphs" fill="#111">20</text>
<line x1="143.00" y1="1183.20" x2="143.00" y2="1185.40" stroke="#999" stroke-width="1"/>
<text x="143.00" y="1197.40" font-size="12.6" font-weight="bold" stroke="#111" stroke-width="0.3" text-anchor="middle" textLength="15.60" lengthAdjust="spacingAndGlyphs" fill="#111">40</text>
<line x1="179.30" y1="1183.20" x2="179.30" y2="1185.40" stroke="#999" stroke-width="1"/>
<text x="179.30" y="1197.40" font-size="12.6" font-weight="bold" stroke="#111" stroke-width="0.3" text-anchor="middle" textLength="15.60" lengthAdjust="spacingAndGlyphs" fill="#111">60</text>
<line x1="217.70" y1="1183.20" x2="217.70" y2="1185.40" stroke="#999" stroke-width="1"/>
<text x="217.70" y="1197.40" font-size="12.6" font-weight="bold" stroke="#111" stroke-width="0.3" text-anchor="middle" textLength="15.60" lengthAdjust="spacingAndGlyphs" fill="#111">80</text>
<text x="58.20" y="1214.20" font-size="12.6" font-weight="bold" stroke="#111" stroke-width="0.3" textLength="177.70" lengthAdjust="spacingAndGlyphs" fill="#111">Months from start of therapy</text>
<text transform="translate(33.10,1175.10) rotate(-90)" x="0" y="0" font-size="12.0" font-weight="bold" stroke="#111" stroke-width="0.3" textLength="125.30" lengthAdjust="spacingAndGlyphs" fill="#111">Proportion of cases</text>
<text transform="translate(-0.07,1051.20) scale(0.920,1)" x="0" y="0" font-size="25.58" font-weight="bold" fill="#000" stroke="#000" stroke-width="0.45">K</text>
<text x="171.25" y="1057.50" font-size="13.2" font-weight="bold" stroke="#111" stroke-width="0.3" textLength="48.25" lengthAdjust="spacingAndGlyphs" fill="#111">TT2&#160;&#160;OS</text>
<defs><linearGradient id="gKk" gradientUnits="userSpaceOnUse" x1="63.8" y1="0" x2="236.4" y2="0"><stop offset="0" stop-color="#858585"/><stop offset="0.55" stop-color="#6a6a6a"/><stop offset="1" stop-color="#3e3e3e"/></linearGradient><linearGradient id="gKr" gradientUnits="userSpaceOnUse" x1="63.8" y1="0" x2="236.4" y2="0"><stop offset="0" stop-color="#f28c96"/><stop offset="0.5" stop-color="#ea5464"/><stop offset="1" stop-color="#d8283a"/></linearGradient></defs>
<path d="M64.00,1038.20 H65.40 V1039.95 H66.80 V1041.70 H68.73 V1043.63 H70.67 V1045.57 H72.60 V1047.50 H74.52 V1048.46 H76.44 V1049.42 H78.36 V1050.38 H80.28 V1051.34 H82.20 V1052.30 H84.12 V1053.64 H86.04 V1054.98 H87.96 V1056.32 H89.88 V1057.66 H91.80 V1059.00 H93.74 V1060.16 H95.68 V1061.32 H97.62 V1062.48 H99.56 V1063.64 H101.50 V1064.80 H103.42 V1065.76 H105.34 V1066.72 H107.26 V1067.68 H109.18 V1068.64 H111.10 V1069.60 H113.02 V1070.36 H114.94 V1071.12 H116.86 V1071.88 H118.78 V1072.64 H120.70 V1073.40 H122.62 V1074.18 H124.54 V1074.96 H126.46 V1075.74 H128.38 V1076.52 H130.30 V1077.30 H132.22 V1078.44 H134.14 V1079.58 H136.06 V1080.72 H137.98 V1081.86 H139.90 V1083.00 H141.87 V1084.17 H143.83 V1085.33 H145.80 V1086.50 H147.70 V1087.80 H149.60 V1089.10 H151.50 V1090.40 H153.43 V1090.88 H155.35 V1091.35 H157.27 V1091.83 H159.20 V1092.30 H161.12 V1092.67 H163.05 V1093.05 H164.97 V1093.42 H166.90 V1093.80 H168.83 V1094.90 H170.77 V1096.00 H172.70 V1097.10 H174.63 V1098.20 H176.57 V1099.30 H178.50 V1100.40 H180.42 V1100.50 H182.33 V1100.60 H184.25 V1100.70 H186.17 V1100.80 H188.08 V1100.90 H190.00 V1101.00 H190.95 V1102.60 H191.90 V1104.20 H193.82 V1104.50 H195.75 V1104.80 H197.68 V1105.10 H199.60 V1105.40 H200.55 V1107.05 H201.50 V1108.70 H203.77 V1109.00 H206.03 V1109.30 H208.30 V1109.60 H208.68 V1111.34 H209.06 V1113.08 H209.44 V1114.82 H209.82 V1116.56 H210.20 V1118.30 H212.28 V1118.38 H214.37 V1118.47 H216.45 V1118.55 H218.53 V1118.63 H220.62 V1118.72 H222.70 V1118.80 " fill="none" stroke="url(#gKk)" stroke-width="1.25"/>
<path d="M64.00,1038.20 H66.15 V1038.83 H68.30 V1039.45 H70.45 V1040.08 H72.60 V1040.70 H74.52 V1041.66 H76.44 V1042.62 H78.36 V1043.58 H80.28 V1044.54 H82.20 V1045.50 H84.12 V1046.28 H86.04 V1047.06 H87.96 V1047.84 H89.88 V1048.62 H91.80 V1049.40 H93.74 V1049.98 H95.68 V1050.56 H97.62 V1051.14 H99.56 V1051.72 H101.50 V1052.30 H103.42 V1052.88 H105.34 V1053.46 H107.26 V1054.04 H109.18 V1054.62 H111.10 V1055.20 H113.02 V1055.96 H114.94 V1056.72 H116.86 V1057.48 H118.78 V1058.24 H120.70 V1059.00 H122.62 V1059.70 H124.54 V1060.40 H126.46 V1061.10 H128.38 V1061.80 H130.30 V1062.50 H132.23 V1063.30 H134.15 V1064.10 H136.07 V1064.90 H138.00 V1065.70 H140.00 V1066.90 H141.92 V1067.13 H143.83 V1067.37 H145.75 V1067.60 H147.67 V1067.83 H149.58 V1068.07 H151.50 V1068.30 H153.44 V1068.68 H155.38 V1069.06 H157.32 V1069.44 H159.26 V1069.82 H161.20 V1070.20 H163.10 V1071.65 H165.00 V1073.10 H166.93 V1074.37 H168.87 V1075.63 H170.80 V1076.90 H172.70 V1078.20 H174.60 V1079.50 H176.50 V1080.80 H178.44 V1081.18 H180.38 V1081.56 H182.32 V1081.94 H184.26 V1082.32 H186.20 V1082.70 H188.60 V1083.20 H191.00 V1083.70 H191.95 V1085.30 H192.90 V1086.90 H194.82 V1087.02 H196.74 V1087.14 H198.66 V1087.26 H200.58 V1087.38 H202.50 V1087.50 H204.40 V1090.40 H206.26 V1090.43 H208.11 V1090.46 H209.97 V1090.49 H211.83 V1090.51 H213.69 V1090.54 H215.54 V1090.57 H217.40 V1090.60 H219.26 V1090.63 H221.11 V1090.66 H222.97 V1090.69 H224.83 V1090.71 H226.69 V1090.74 H228.54 V1090.77 H230.40 V1090.80 " fill="none" stroke="url(#gKr)" stroke-width="1.25"/>
<line x1="211.20" y1="1118.80" x2="222.70" y2="1118.80" stroke="#303030" stroke-width="2.2" stroke-dasharray="1.2,2.6"/>
<line x1="205.40" y1="1090.80" x2="230.40" y2="1090.80" stroke="#c82838" stroke-width="2.2" stroke-dasharray="1.2,2.6"/>
<text x="98.80" y="1126.00" font-size="12.51" font-weight="bold" stroke="#111" stroke-width="0.3" textLength="51.70" lengthAdjust="spacingAndGlyphs" fill="#111">Deaths/N</text>
<text x="160.60" y="1126.00" font-size="12.51" font-weight="bold" stroke="#111" stroke-width="0.3" textLength="63.20" lengthAdjust="spacingAndGlyphs" fill="#111">Percentage</text>
<line x1="68.80" y1="1136.20" x2="74.20" y2="1136.20" stroke="#a0a0a0" stroke-width="1"/>
<text x="75.00" y="1139.60" font-size="12.51" font-weight="bold" stroke="#111" stroke-width="0.3" textLength="30.30" lengthAdjust="spacingAndGlyphs" fill="#111">EGR1</text>
<text x="105.50" y="1135.47" font-size="6.755400000000001" font-weight="bold" stroke="#111" stroke-width="0.3" fill="#111">L</text>
<text x="118.50" y="1139.60" font-size="12.51" font-weight="bold" stroke="#111" stroke-width="0.3" textLength="29.10" lengthAdjust="spacingAndGlyphs" fill="#111">44/99</text>
<text x="175.90" y="1139.60" font-size="12.51" font-weight="bold" stroke="#111" stroke-width="0.3" textLength="24.20" lengthAdjust="spacingAndGlyphs" fill="#111">44%</text>
<line x1="68.80" y1="1149.60" x2="74.20" y2="1149.60" stroke="#f4a0a8" stroke-width="1"/>
<text x="75.00" y="1152.90" font-size="12.51" font-weight="bold" stroke="#111" stroke-width="0.3" textLength="30.30" lengthAdjust="spacingAndGlyphs" fill="#111">EGR1</text>
<text x="105.50" y="1148.77" font-size="6.755400000000001" font-weight="bold" stroke="#111" stroke-width="0.3" fill="#111">H</text>
<text x="119.20" y="1152.90" font-size="12.51" font-weight="bold" stroke="#111" stroke-width="0.3" textLength="35.70" lengthAdjust="spacingAndGlyphs" fill="#111">67/240</text>
<text x="176.40" y="1152.90" font-size="12.51" font-weight="bold" stroke="#111" stroke-width="0.3" textLength="22.80" lengthAdjust="spacingAndGlyphs" fill="#111">28%</text>
<text x="74.40" y="1166.50" font-size="12.51" font-weight="bold" stroke="#111" stroke-width="0.3" font-style="italic" textLength="7.76" lengthAdjust="spacingAndGlyphs" fill="#111">P</text>
<text x="85.00" y="1166.50" font-size="12.51" font-weight="bold" stroke="#111" stroke-width="0.3" textLength="5.50" lengthAdjust="spacingAndGlyphs" fill="#111">=</text>
<text x="98.10" y="1166.50" font-size="12.51" font-weight="bold" stroke="#111" stroke-width="0.3" textLength="34.60" lengthAdjust="spacingAndGlyphs" fill="#111">.00484</text>
<text x="142.00" y="1166.50" font-size="12.51" font-weight="bold" stroke="#111" stroke-width="0.3" textLength="45.00" lengthAdjust="spacingAndGlyphs" fill="#111">HR=0.58</text>
<text x="75.00" y="1179.60" font-size="12.51" font-weight="bold" stroke="#111" stroke-width="0.3" textLength="77.70" lengthAdjust="spacingAndGlyphs" fill="#111">Cutoff=965.62</text>
<rect x="337.80" y="1033.50" width="172.60" height="149.40" fill="none" stroke="#9c9c9c" stroke-width="1.2"/>
<line x1="335.60" y1="1038.75" x2="337.80" y2="1038.75" stroke="#999" stroke-width="1"/>
<line x1="335.60" y1="1066.55" x2="337.80" y2="1066.55" stroke="#999" stroke-width="1"/>
<line x1="335.60" y1="1094.35" x2="337.80" y2="1094.35" stroke="#999" stroke-width="1"/>
<line x1="335.60" y1="1122.15" x2="337.80" y2="1122.15" stroke="#999" stroke-width="1"/>
<line x1="335.60" y1="1149.95" x2="337.80" y2="1149.95" stroke="#999" stroke-width="1"/>
<line x1="335.60" y1="1177.75" x2="337.80" y2="1177.75" stroke="#999" stroke-width="1"/>
<text x="332.80" y="1043.80" font-size="12.4" font-weight="bold" stroke="#111" stroke-width="0.3" text-anchor="end" textLength="18.40" lengthAdjust="spacingAndGlyphs" fill="#111">1.0</text>
<text x="332.80" y="1071.60" font-size="12.4" font-weight="bold" stroke="#111" stroke-width="0.3" text-anchor="end" textLength="18.40" lengthAdjust="spacingAndGlyphs" fill="#111">0.8</text>
<text x="332.80" y="1099.40" font-size="12.4" font-weight="bold" stroke="#111" stroke-width="0.3" text-anchor="end" textLength="18.40" lengthAdjust="spacingAndGlyphs" fill="#111">0.6</text>
<text x="332.80" y="1127.20" font-size="12.4" font-weight="bold" stroke="#111" stroke-width="0.3" text-anchor="end" textLength="18.40" lengthAdjust="spacingAndGlyphs" fill="#111">0.4</text>
<text x="332.80" y="1155.00" font-size="12.4" font-weight="bold" stroke="#111" stroke-width="0.3" text-anchor="end" textLength="18.40" lengthAdjust="spacingAndGlyphs" fill="#111">0.2</text>
<text x="332.80" y="1182.80" font-size="12.4" font-weight="bold" stroke="#111" stroke-width="0.3" text-anchor="end" textLength="18.40" lengthAdjust="spacingAndGlyphs" fill="#111">0.0</text>
<line x1="340.00" y1="1182.90" x2="340.00" y2="1185.10" stroke="#999" stroke-width="1"/>
<text x="340.00" y="1198.90" font-size="12.6" font-weight="bold" stroke="#111" stroke-width="0.3" text-anchor="middle" textLength="7.40" lengthAdjust="spacingAndGlyphs" fill="#111">0</text>
<line x1="378.50" y1="1182.90" x2="378.50" y2="1185.10" stroke="#999" stroke-width="1"/>
<text x="378.50" y="1198.90" font-size="12.6" font-weight="bold" stroke="#111" stroke-width="0.3" text-anchor="middle" textLength="15.60" lengthAdjust="spacingAndGlyphs" fill="#111">10</text>
<line x1="419.60" y1="1182.90" x2="419.60" y2="1185.10" stroke="#999" stroke-width="1"/>
<text x="419.60" y="1198.90" font-size="12.6" font-weight="bold" stroke="#111" stroke-width="0.3" text-anchor="middle" textLength="15.60" lengthAdjust="spacingAndGlyphs" fill="#111">20</text>
<line x1="460.30" y1="1182.90" x2="460.30" y2="1185.10" stroke="#999" stroke-width="1"/>
<text x="460.30" y="1198.90" font-size="12.6" font-weight="bold" stroke="#111" stroke-width="0.3" text-anchor="middle" textLength="15.60" lengthAdjust="spacingAndGlyphs" fill="#111">30</text>
<line x1="501.40" y1="1182.90" x2="501.40" y2="1185.10" stroke="#999" stroke-width="1"/>
<text x="501.40" y="1198.90" font-size="12.6" font-weight="bold" stroke="#111" stroke-width="0.3" text-anchor="middle" textLength="15.60" lengthAdjust="spacingAndGlyphs" fill="#111">40</text>
<text x="332.00" y="1217.10" font-size="12.6" font-weight="bold" stroke="#111" stroke-width="0.3" textLength="177.80" lengthAdjust="spacingAndGlyphs" fill="#111">Months from start of therapy</text>
<text transform="translate(307.50,1176.40) rotate(-90)" x="0" y="0" font-size="12.0" font-weight="bold" stroke="#111" stroke-width="0.3" textLength="126.00" lengthAdjust="spacingAndGlyphs" fill="#111">Proportion of cases</text>
<text transform="translate(280.86,1051.00) scale(0.953,1)" x="0" y="0" font-size="24.13" font-weight="bold" fill="#000" stroke="#000" stroke-width="0.45">L</text>
<text x="444.60" y="1049.00" font-size="13.2" font-weight="bold" stroke="#111" stroke-width="0.3" textLength="47.90" lengthAdjust="spacingAndGlyphs" fill="#111">TT3&#160;&#160;OS</text>
<defs><linearGradient id="gLk" gradientUnits="userSpaceOnUse" x1="337.8" y1="0" x2="510.4" y2="0"><stop offset="0" stop-color="#858585"/><stop offset="0.55" stop-color="#6a6a6a"/><stop offset="1" stop-color="#3e3e3e"/></linearGradient><linearGradient id="gLr" gradientUnits="userSpaceOnUse" x1="337.8" y1="0" x2="510.4" y2="0"><stop offset="0" stop-color="#f28c96"/><stop offset="0.5" stop-color="#ea5464"/><stop offset="1" stop-color="#d8283a"/></linearGradient></defs>
<path d="M338.00,1038.80 H356.30 V1038.80 H358.80 V1041.70 H359.95 V1044.10 H361.10 V1046.50 H363.00 V1047.77 H364.90 V1049.03 H366.80 V1050.30 H367.80 V1051.30 H369.72 V1051.47 H371.63 V1051.63 H373.55 V1051.80 H375.47 V1051.97 H377.38 V1052.13 H379.30 V1052.30 H382.20 V1054.20 H384.47 V1054.63 H386.73 V1055.07 H389.00 V1055.50 H390.40 V1057.75 H391.80 V1060.00 H394.70 V1062.50 H397.10 V1063.15 H399.50 V1063.80 H401.32 V1063.84 H403.14 V1063.89 H404.97 V1063.93 H406.79 V1063.98 H408.61 V1064.02 H410.43 V1064.07 H412.26 V1064.11 H414.08 V1064.16 H415.90 V1064.20 H417.35 V1065.95 H418.80 V1067.70 H420.70 V1068.65 H422.60 V1069.60 H426.70 V1069.60 H429.60 V1072.50 H454.60 V1072.50 H454.98 V1074.22 H455.36 V1075.94 H455.74 V1077.66 H456.12 V1079.38 H456.50 V1081.10 H504.60 V1081.10 " fill="none" stroke="url(#gLk)" stroke-width="1.25"/>
<path d="M338.00,1038.80 H356.30 V1038.80 H357.90 V1040.73 H359.50 V1042.67 H361.10 V1044.60 H363.03 V1044.91 H364.95 V1045.22 H366.88 V1045.54 H368.80 V1045.85 H370.73 V1046.16 H372.65 V1046.47 H374.57 V1046.79 H376.50 V1047.10 H378.42 V1047.29 H380.34 V1047.48 H382.26 V1047.67 H384.18 V1047.86 H386.10 V1048.05 H388.02 V1048.24 H389.94 V1048.43 H391.86 V1048.62 H393.78 V1048.81 H395.70 V1049.00 H397.57 V1049.06 H399.44 V1049.12 H401.31 V1049.18 H403.18 V1049.25 H405.05 V1049.31 H406.92 V1049.37 H408.78 V1049.43 H410.65 V1049.49 H412.52 V1049.55 H414.39 V1049.62 H416.26 V1049.68 H418.13 V1049.74 H420.00 V1049.80 H431.50 V1050.00 H433.45 V1051.15 H435.40 V1052.30 H504.60 V1052.30 " fill="none" stroke="url(#gLr)" stroke-width="1.25"/>
<line x1="457.50" y1="1081.10" x2="504.60" y2="1081.10" stroke="#303030" stroke-width="2.2" stroke-dasharray="1.2,2.6"/>
<line x1="436.40" y1="1052.30" x2="504.60" y2="1052.30" stroke="#c82838" stroke-width="2.2" stroke-dasharray="1.2,2.6"/>
<text x="376.20" y="1111.80" font-size="12.19" font-weight="bold" stroke="#111" stroke-width="0.3" textLength="49.80" lengthAdjust="spacingAndGlyphs" fill="#111">Deaths/N</text>
<text x="436.70" y="1111.80" font-size="12.19" font-weight="bold" stroke="#111" stroke-width="0.3" textLength="62.10" lengthAdjust="spacingAndGlyphs" fill="#111">Percentage</text>
<line x1="343.80" y1="1122.80" x2="348.50" y2="1122.80" stroke="#a0a0a0" stroke-width="1"/>
<text x="352.30" y="1124.80" font-size="12.19" font-weight="bold" stroke="#111" stroke-width="0.3" textLength="30.00" lengthAdjust="spacingAndGlyphs" fill="#111">EGR1</text>
<text x="382.50" y="1120.78" font-size="6.5826" font-weight="bold" stroke="#111" stroke-width="0.3" fill="#111">L</text>
<text x="396.20" y="1124.80" font-size="12.19" font-weight="bold" stroke="#111" stroke-width="0.3" textLength="27.30" lengthAdjust="spacingAndGlyphs" fill="#111">15/55</text>
<text x="452.60" y="1124.80" font-size="12.19" font-weight="bold" stroke="#111" stroke-width="0.3" textLength="22.50" lengthAdjust="spacingAndGlyphs" fill="#111">27%</text>
<line x1="343.80" y1="1131.50" x2="348.50" y2="1131.50" stroke="#f4a0a8" stroke-width="1"/>
<text x="352.30" y="1137.70" font-size="12.19" font-weight="bold" stroke="#111" stroke-width="0.3" textLength="30.00" lengthAdjust="spacingAndGlyphs" fill="#111">EGR1</text>
<text x="382.50" y="1133.68" font-size="6.5826" font-weight="bold" stroke="#111" stroke-width="0.3" fill="#111">H</text>
<text x="396.90" y="1137.70" font-size="12.19" font-weight="bold" stroke="#111" stroke-width="0.3" textLength="34.20" lengthAdjust="spacingAndGlyphs" fill="#111">14/150</text>
<text x="454.30" y="1137.70" font-size="12.19" font-weight="bold" stroke="#111" stroke-width="0.3" textLength="16.20" lengthAdjust="spacingAndGlyphs" fill="#111">9%</text>
<text x="400.20" y="1150.20" font-size="12.19" font-weight="bold" stroke="#111" stroke-width="0.3" font-style="italic" textLength="7.56" lengthAdjust="spacingAndGlyphs" fill="#111">P</text>
<text x="410.00" y="1150.20" font-size="12.19" font-weight="bold" stroke="#111" stroke-width="0.3" textLength="5.36" lengthAdjust="spacingAndGlyphs" fill="#111">=</text>
<text x="423.10" y="1150.20" font-size="12.19" font-weight="bold" stroke="#111" stroke-width="0.3" textLength="28.30" lengthAdjust="spacingAndGlyphs" fill="#111">.0011</text>
<text x="400.80" y="1163.50" font-size="12.19" font-weight="bold" stroke="#111" stroke-width="0.3" textLength="45.50" lengthAdjust="spacingAndGlyphs" fill="#111">HR=0.32</text>
<text x="400.80" y="1176.20" font-size="12.19" font-weight="bold" stroke="#111" stroke-width="0.3" textLength="75.10" lengthAdjust="spacingAndGlyphs" fill="#111">Cutoff=960.57</text>
</svg></body></html>
